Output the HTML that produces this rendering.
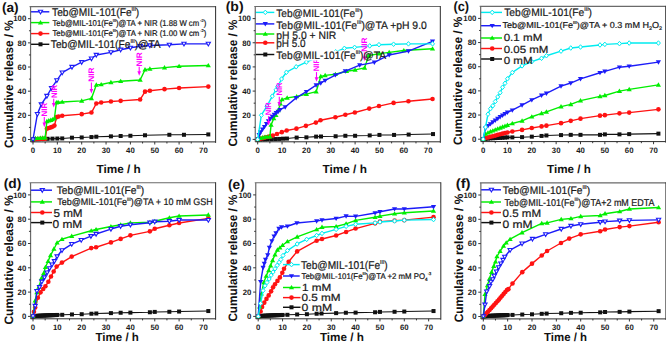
<!DOCTYPE html>
<html><head><meta charset="utf-8"><style>
html,body{margin:0;padding:0;background:#fff;}
svg{display:block;font-family:"Liberation Sans",sans-serif;text-rendering:geometricPrecision;}
</style></head><body>
<svg width="666" height="342" viewBox="0 0 666 342">
<rect width="666" height="342" fill="#fff"/>
<path d="M33 139.5L37.87 139.14L42.74 138.9L47.61 138.78L52.48 138.65L57.35 138.53L62.22 138.41L71.96 137.69L81.7 137.45L91.44 137.08L96.31 136.72L110.92 136.36L120.66 136L130.4 135.76L145.01 135.27L169.36 134.79L183.97 134.79L208.32 134.43" fill="none" stroke="#111111" stroke-width="1.05" stroke-linejoin="round"/>
<rect x="31" y="137.5" width="4" height="4" fill="#111111"/>
<rect x="35.87" y="137.14" width="4" height="4" fill="#111111"/>
<rect x="40.74" y="136.9" width="4" height="4" fill="#111111"/>
<rect x="45.61" y="136.78" width="4" height="4" fill="#111111"/>
<rect x="50.48" y="136.65" width="4" height="4" fill="#111111"/>
<rect x="55.35" y="136.53" width="4" height="4" fill="#111111"/>
<rect x="60.22" y="136.41" width="4" height="4" fill="#111111"/>
<rect x="69.96" y="135.69" width="4" height="4" fill="#111111"/>
<rect x="79.7" y="135.45" width="4" height="4" fill="#111111"/>
<rect x="89.44" y="135.08" width="4" height="4" fill="#111111"/>
<rect x="94.31" y="134.72" width="4" height="4" fill="#111111"/>
<rect x="108.92" y="134.36" width="4" height="4" fill="#111111"/>
<rect x="118.66" y="134" width="4" height="4" fill="#111111"/>
<rect x="128.4" y="133.76" width="4" height="4" fill="#111111"/>
<rect x="143.01" y="133.27" width="4" height="4" fill="#111111"/>
<rect x="167.36" y="132.79" width="4" height="4" fill="#111111"/>
<rect x="181.97" y="132.79" width="4" height="4" fill="#111111"/>
<rect x="206.32" y="132.43" width="4" height="4" fill="#111111"/>
<path d="M33 139.5L35.44 139.14L37.87 139.02L40.3 138.9L42.74 138.9L45.17 138.78L46.88 128.63L48.83 128.02L50.78 127.42L52.48 126.82L54.43 125.61L56.62 117.15L58.57 116.55L62.22 115.7L81.7 114.13L91.44 112.56L96.31 103.5L101.18 102.54L110.92 101.45L120.66 100.84L140.14 99.52L145.01 91.66L149.88 90.7L164.49 89.13L179.1 88.04L208.32 86.59" fill="none" stroke="#ff1212" stroke-width="1.4" stroke-linejoin="round"/>
<circle cx="33" cy="139.5" r="2.3" fill="#ff1212"/>
<circle cx="35.44" cy="139.14" r="2.3" fill="#ff1212"/>
<circle cx="37.87" cy="139.02" r="2.3" fill="#ff1212"/>
<circle cx="40.3" cy="138.9" r="2.3" fill="#ff1212"/>
<circle cx="42.74" cy="138.9" r="2.3" fill="#ff1212"/>
<circle cx="45.17" cy="138.78" r="2.3" fill="#ff1212"/>
<circle cx="46.88" cy="128.63" r="2.3" fill="#ff1212"/>
<circle cx="48.83" cy="128.02" r="2.3" fill="#ff1212"/>
<circle cx="50.78" cy="127.42" r="2.3" fill="#ff1212"/>
<circle cx="52.48" cy="126.82" r="2.3" fill="#ff1212"/>
<circle cx="54.43" cy="125.61" r="2.3" fill="#ff1212"/>
<circle cx="56.62" cy="117.15" r="2.3" fill="#ff1212"/>
<circle cx="58.57" cy="116.55" r="2.3" fill="#ff1212"/>
<circle cx="62.22" cy="115.7" r="2.3" fill="#ff1212"/>
<circle cx="81.7" cy="114.13" r="2.3" fill="#ff1212"/>
<circle cx="91.44" cy="112.56" r="2.3" fill="#ff1212"/>
<circle cx="96.31" cy="103.5" r="2.3" fill="#ff1212"/>
<circle cx="101.18" cy="102.54" r="2.3" fill="#ff1212"/>
<circle cx="110.92" cy="101.45" r="2.3" fill="#ff1212"/>
<circle cx="120.66" cy="100.84" r="2.3" fill="#ff1212"/>
<circle cx="140.14" cy="99.52" r="2.3" fill="#ff1212"/>
<circle cx="145.01" cy="91.66" r="2.3" fill="#ff1212"/>
<circle cx="149.88" cy="90.7" r="2.3" fill="#ff1212"/>
<circle cx="164.49" cy="89.13" r="2.3" fill="#ff1212"/>
<circle cx="179.1" cy="88.04" r="2.3" fill="#ff1212"/>
<circle cx="208.32" cy="86.59" r="2.3" fill="#ff1212"/>
<path d="M33 139.14L35.44 138.29L37.87 138.29L40.3 138.05L42.74 137.93L45.17 137.69L46.88 121.38L48.83 120.66L50.78 120.17L52.48 119.57L54.43 118.36L56.38 102.66L58.08 102.29L62.22 102.05L81.7 100.84L91.44 98.43L96.31 84.9L101.18 84.54L110.92 82.36L120.66 81.27L140.14 79.95L145.01 69.68L149.88 68.83L164.49 67.62L179.1 66.3L208.32 65.57" fill="none" stroke="#00ee00" stroke-width="1.4" stroke-linejoin="round"/>
<path d="M33 136.54L35.6 140.94L30.4 140.94Z" fill="#00ee00"/>
<path d="M35.44 135.69L38.04 140.09L32.84 140.09Z" fill="#00ee00"/>
<path d="M37.87 135.69L40.47 140.09L35.27 140.09Z" fill="#00ee00"/>
<path d="M40.3 135.45L42.91 139.85L37.7 139.85Z" fill="#00ee00"/>
<path d="M42.74 135.33L45.34 139.73L40.14 139.73Z" fill="#00ee00"/>
<path d="M45.17 135.09L47.77 139.49L42.57 139.49Z" fill="#00ee00"/>
<path d="M46.88 118.78L49.48 123.18L44.28 123.18Z" fill="#00ee00"/>
<path d="M48.83 118.06L51.43 122.46L46.23 122.46Z" fill="#00ee00"/>
<path d="M50.78 117.57L53.38 121.97L48.18 121.97Z" fill="#00ee00"/>
<path d="M52.48 116.97L55.08 121.37L49.88 121.37Z" fill="#00ee00"/>
<path d="M54.43 115.76L57.03 120.16L51.83 120.16Z" fill="#00ee00"/>
<path d="M56.38 100.06L58.98 104.46L53.78 104.46Z" fill="#00ee00"/>
<path d="M58.08 99.69L60.68 104.09L55.48 104.09Z" fill="#00ee00"/>
<path d="M62.22 99.45L64.82 103.85L59.62 103.85Z" fill="#00ee00"/>
<path d="M81.7 98.24L84.3 102.64L79.1 102.64Z" fill="#00ee00"/>
<path d="M91.44 95.83L94.04 100.23L88.84 100.23Z" fill="#00ee00"/>
<path d="M96.31 82.3L98.91 86.7L93.71 86.7Z" fill="#00ee00"/>
<path d="M101.18 81.94L103.78 86.34L98.58 86.34Z" fill="#00ee00"/>
<path d="M110.92 79.76L113.52 84.16L108.32 84.16Z" fill="#00ee00"/>
<path d="M120.66 78.67L123.26 83.07L118.06 83.07Z" fill="#00ee00"/>
<path d="M140.14 77.35L142.74 81.75L137.54 81.75Z" fill="#00ee00"/>
<path d="M145.01 67.08L147.61 71.48L142.41 71.48Z" fill="#00ee00"/>
<path d="M149.88 66.23L152.48 70.63L147.28 70.63Z" fill="#00ee00"/>
<path d="M164.49 65.02L167.09 69.42L161.89 69.42Z" fill="#00ee00"/>
<path d="M179.1 63.7L181.7 68.1L176.5 68.1Z" fill="#00ee00"/>
<path d="M208.32 62.97L210.92 67.37L205.72 67.37Z" fill="#00ee00"/>
<path d="M33 139.5L37.38 114.13L41.28 104.47L46.88 96.01L51.51 88.16L56.86 80.31L62.22 72.58L71.96 67.02L81.7 62.19L91.44 58.56L96.31 54.94L110.92 52.4L120.66 49.75L130.4 47.81L140.14 46.24L149.88 45.52L169.36 44.79L183.97 43.83L208.32 43.83" fill="none" stroke="#1c1cf8" stroke-width="1.4" stroke-linejoin="round"/>
<path d="M33 141.6L35.1 137.9L30.9 137.9Z" fill="#fff" stroke="#1c1cf8" stroke-width="1.1"/>
<path d="M37.38 116.23L39.48 112.53L35.28 112.53Z" fill="#fff" stroke="#1c1cf8" stroke-width="1.1"/>
<path d="M41.28 106.57L43.38 102.87L39.18 102.87Z" fill="#fff" stroke="#1c1cf8" stroke-width="1.1"/>
<path d="M46.88 98.11L48.98 94.41L44.78 94.41Z" fill="#fff" stroke="#1c1cf8" stroke-width="1.1"/>
<path d="M51.51 90.26L53.61 86.56L49.41 86.56Z" fill="#fff" stroke="#1c1cf8" stroke-width="1.1"/>
<path d="M56.86 82.41L58.96 78.71L54.76 78.71Z" fill="#fff" stroke="#1c1cf8" stroke-width="1.1"/>
<path d="M62.22 74.68L64.32 70.98L60.12 70.98Z" fill="#fff" stroke="#1c1cf8" stroke-width="1.1"/>
<path d="M71.96 69.12L74.06 65.42L69.86 65.42Z" fill="#fff" stroke="#1c1cf8" stroke-width="1.1"/>
<path d="M81.7 64.29L83.8 60.59L79.6 60.59Z" fill="#fff" stroke="#1c1cf8" stroke-width="1.1"/>
<path d="M91.44 60.66L93.54 56.96L89.34 56.96Z" fill="#fff" stroke="#1c1cf8" stroke-width="1.1"/>
<path d="M96.31 57.04L98.41 53.34L94.21 53.34Z" fill="#fff" stroke="#1c1cf8" stroke-width="1.1"/>
<path d="M110.92 54.5L113.02 50.8L108.82 50.8Z" fill="#fff" stroke="#1c1cf8" stroke-width="1.1"/>
<path d="M120.66 51.85L122.76 48.15L118.56 48.15Z" fill="#fff" stroke="#1c1cf8" stroke-width="1.1"/>
<path d="M130.4 49.91L132.5 46.21L128.3 46.21Z" fill="#fff" stroke="#1c1cf8" stroke-width="1.1"/>
<path d="M140.14 48.34L142.24 44.64L138.04 44.64Z" fill="#fff" stroke="#1c1cf8" stroke-width="1.1"/>
<path d="M149.88 47.62L151.98 43.92L147.78 43.92Z" fill="#fff" stroke="#1c1cf8" stroke-width="1.1"/>
<path d="M169.36 46.89L171.46 43.19L167.26 43.19Z" fill="#fff" stroke="#1c1cf8" stroke-width="1.1"/>
<path d="M183.97 45.93L186.07 42.23L181.87 42.23Z" fill="#fff" stroke="#1c1cf8" stroke-width="1.1"/>
<path d="M208.32 45.93L210.42 42.23L206.22 42.23Z" fill="#fff" stroke="#1c1cf8" stroke-width="1.1"/>
<text transform="translate(47.1 116.4) rotate(-90)" font-size="8" font-weight="bold" fill="#ff00ff" textLength="13.6" lengthAdjust="spacingAndGlyphs">NIR</text>
<path d="M44.3 117.1L44.3 124.2" stroke="#ff00ff" stroke-width="1.1"/>
<path d="M42.5 122.6L46.1 122.6L44.3 127.2Z" fill="#ff00ff"/>
<text transform="translate(56.5 98.1) rotate(-90)" font-size="8" font-weight="bold" fill="#ff00ff" textLength="13.3" lengthAdjust="spacingAndGlyphs">NIR</text>
<path d="M53.7 98.8L53.7 104.5" stroke="#ff00ff" stroke-width="1.1"/>
<path d="M51.9 102.9L55.5 102.9L53.7 107.5Z" fill="#ff00ff"/>
<text transform="translate(94.2 81.8) rotate(-90)" font-size="8" font-weight="bold" fill="#ff00ff" textLength="14.3" lengthAdjust="spacingAndGlyphs">NIR</text>
<path d="M91.4 82.4L91.4 90.5" stroke="#ff00ff" stroke-width="1.1"/>
<path d="M89.6 88.9L93.2 88.9L91.4 93.5Z" fill="#ff00ff"/>
<text transform="translate(142 66.4) rotate(-90)" font-size="8" font-weight="bold" fill="#ff00ff" textLength="14.1" lengthAdjust="spacingAndGlyphs">NIR</text>
<path d="M139.2 66.8L139.2 72.8" stroke="#ff00ff" stroke-width="1.1"/>
<path d="M137.4 71.2L141 71.2L139.2 75.8Z" fill="#ff00ff"/>
<path d="M31 11.8L49.3 11.8" stroke="#1c1cf8" stroke-width="1.45"/>
<path d="M40.5 13.9L42.6 10.2L38.4 10.2Z" fill="#fff" stroke="#1c1cf8" stroke-width="1.1"/>
<text x="52.1" y="15.9" font-size="11.12" fill="#1a1a1a" stroke="#1a1a1a" stroke-width="0.22" textLength="87.1" lengthAdjust="spacingAndGlyphs"><tspan>Teb@MIL-101(Fe</tspan><tspan font-size="5.56" baseline-shift="5.12">III</tspan><tspan>)</tspan></text>
<path d="M31 22.6L49.3 22.6" stroke="#00ee00" stroke-width="1.45"/>
<path d="M40.5 20L43.1 24.4L37.9 24.4Z" fill="#00ee00"/>
<text x="52.5" y="25.5" font-size="8.53" fill="#1a1a1a" stroke="#1a1a1a" stroke-width="0.22" textLength="153.8" lengthAdjust="spacingAndGlyphs"><tspan>Teb@MIL-101(Fe</tspan><tspan font-size="4.26" baseline-shift="3.92">III</tspan><tspan>)@TA + NIR (1.88 W cm</tspan><tspan font-size="4.26" baseline-shift="3.92"> -2</tspan><tspan>)</tspan></text>
<path d="M31 33.6L49.3 33.6" stroke="#ff1212" stroke-width="1.45"/>
<circle cx="40.5" cy="33.6" r="2.3" fill="#ff1212"/>
<text x="52.5" y="35.5" font-size="8.21" fill="#1a1a1a" stroke="#1a1a1a" stroke-width="0.22" textLength="153.8" lengthAdjust="spacingAndGlyphs"><tspan>Teb@MIL-101(Fe</tspan><tspan font-size="4.11" baseline-shift="3.78">III</tspan><tspan>)@TA + NIR (1.00 W cm</tspan><tspan font-size="4.11" baseline-shift="3.78"> -2</tspan><tspan>)</tspan></text>
<path d="M31 44.3L49.3 44.3" stroke="#111111" stroke-width="1.45"/>
<rect x="38.5" y="42.3" width="4" height="4" fill="#111111"/>
<text x="50.8" y="47.8" font-size="11.12" fill="#1a1a1a" stroke="#1a1a1a" stroke-width="0.22" textLength="109.9" lengthAdjust="spacingAndGlyphs"><tspan>Teb@MIL-101(Fe</tspan><tspan font-size="5.56" baseline-shift="5.12">III</tspan><tspan>)@TA</tspan></text>
<path d="M29.57 6.62H215.62M30.57 6.62V141.9" fill="none" stroke="#6a6a6a" stroke-width="1.2"/>
<path d="M30.57 141.9H215.62M215.62 6.12V142.9" fill="none" stroke="#2a2a2a" stroke-width="1"/>
<path d="M33 141.9v2.6M57.35 141.9v2.6M81.7 141.9v2.6M106.05 141.9v2.6M130.4 141.9v2.6M154.75 141.9v2.6M179.1 141.9v2.6M203.45 141.9v2.6M45.17 141.9v1.6M69.53 141.9v1.6M93.88 141.9v1.6M118.23 141.9v1.6M142.57 141.9v1.6M166.93 141.9v1.6M191.28 141.9v1.6M30.57 139.5h-2.6M30.57 115.34h-2.6M30.57 91.18h-2.6M30.57 67.02h-2.6M30.57 42.86h-2.6M30.57 18.7h-2.6M30.57 127.42h-1.6M30.57 103.26h-1.6M30.57 79.1h-1.6M30.57 54.94h-1.6M30.57 30.78h-1.6" stroke="#222" stroke-width="0.9"/>
<text x="33" y="153.3" font-size="7.8" font-weight="bold" text-anchor="middle" fill="#1a1a1a" >0</text>
<text x="57.35" y="153.3" font-size="7.8" font-weight="bold" text-anchor="middle" fill="#1a1a1a" >10</text>
<text x="81.7" y="153.3" font-size="7.8" font-weight="bold" text-anchor="middle" fill="#1a1a1a" >20</text>
<text x="106.05" y="153.3" font-size="7.8" font-weight="bold" text-anchor="middle" fill="#1a1a1a" >30</text>
<text x="130.4" y="153.3" font-size="7.8" font-weight="bold" text-anchor="middle" fill="#1a1a1a" >40</text>
<text x="154.75" y="153.3" font-size="7.8" font-weight="bold" text-anchor="middle" fill="#1a1a1a" >50</text>
<text x="179.1" y="153.3" font-size="7.8" font-weight="bold" text-anchor="middle" fill="#1a1a1a" >60</text>
<text x="203.45" y="153.3" font-size="7.8" font-weight="bold" text-anchor="middle" fill="#1a1a1a" >70</text>
<text x="26.27" y="142.25" font-size="7.8" font-weight="bold" text-anchor="end" fill="#1a1a1a" >0</text>
<text x="26.27" y="118.09" font-size="7.8" font-weight="bold" text-anchor="end" fill="#1a1a1a" >20</text>
<text x="26.27" y="93.93" font-size="7.8" font-weight="bold" text-anchor="end" fill="#1a1a1a" >40</text>
<text x="26.27" y="69.77" font-size="7.8" font-weight="bold" text-anchor="end" fill="#1a1a1a" >60</text>
<text x="26.27" y="45.61" font-size="7.8" font-weight="bold" text-anchor="end" fill="#1a1a1a" >80</text>
<text x="26.27" y="21.45" font-size="7.8" font-weight="bold" text-anchor="end" fill="#1a1a1a" >100</text>
<text transform="translate(12.8 84.1) rotate(-90)" font-size="12.2" font-weight="bold" text-anchor="middle" fill="#111" textLength="127.8" lengthAdjust="spacingAndGlyphs">Cumulative release / %</text>
<text x="96.5" y="172.6" font-size="11.6" font-weight="bold" text-anchor="start" fill="#111" textLength="44.3" lengthAdjust="spacingAndGlyphs">Time / h</text>
<text x="1.9" y="11.7" font-size="13.4" font-weight="bold" text-anchor="start" fill="#111" textLength="16.7" lengthAdjust="spacingAndGlyphs">(a)</text>
<path d="M257.7 139.4L260.13 139.4L262.57 139.28L265 139.28L267.44 139.16L271.34 139.16L275.23 139.04L279.13 138.92L283.02 138.68L286.92 138.55L296.66 137.59L306.4 137.35L316.14 136.62L321.01 136.5L335.62 136.26L345.36 135.78L355.1 135.78L369.71 135.41L379.45 134.93L394.06 134.93L408.67 134.57L433.02 134.08" fill="none" stroke="#111111" stroke-width="1.05" stroke-linejoin="round"/>
<rect x="255.7" y="137.4" width="4" height="4" fill="#111111"/>
<rect x="258.13" y="137.4" width="4" height="4" fill="#111111"/>
<rect x="260.57" y="137.28" width="4" height="4" fill="#111111"/>
<rect x="263" y="137.28" width="4" height="4" fill="#111111"/>
<rect x="265.44" y="137.16" width="4" height="4" fill="#111111"/>
<rect x="269.34" y="137.16" width="4" height="4" fill="#111111"/>
<rect x="273.23" y="137.04" width="4" height="4" fill="#111111"/>
<rect x="277.13" y="136.92" width="4" height="4" fill="#111111"/>
<rect x="281.02" y="136.68" width="4" height="4" fill="#111111"/>
<rect x="284.92" y="136.55" width="4" height="4" fill="#111111"/>
<rect x="294.66" y="135.59" width="4" height="4" fill="#111111"/>
<rect x="304.4" y="135.35" width="4" height="4" fill="#111111"/>
<rect x="314.14" y="134.62" width="4" height="4" fill="#111111"/>
<rect x="319.01" y="134.5" width="4" height="4" fill="#111111"/>
<rect x="333.62" y="134.26" width="4" height="4" fill="#111111"/>
<rect x="343.36" y="133.78" width="4" height="4" fill="#111111"/>
<rect x="353.1" y="133.78" width="4" height="4" fill="#111111"/>
<rect x="367.71" y="133.41" width="4" height="4" fill="#111111"/>
<rect x="377.45" y="132.93" width="4" height="4" fill="#111111"/>
<rect x="392.06" y="132.93" width="4" height="4" fill="#111111"/>
<rect x="406.67" y="132.57" width="4" height="4" fill="#111111"/>
<rect x="431.02" y="132.08" width="4" height="4" fill="#111111"/>
<path d="M257.7 139.4L260.13 138.8L262.57 138.19L265 137.59L267.44 136.98L269.88 136.38L272.8 135.53L276.94 133.96L281.81 132.15L286.68 130.46L296.42 128.65L305.91 125.87L315.9 122.61L320.52 120.19L335.38 117.29L345.36 114.76L354.86 112.46L369.22 108.6L378.96 106.06L393.57 102.92L408.43 101.23L432.53 98.93" fill="none" stroke="#ff1212" stroke-width="1.4" stroke-linejoin="round"/>
<circle cx="257.7" cy="139.4" r="2.3" fill="#ff1212"/>
<circle cx="260.13" cy="138.8" r="2.3" fill="#ff1212"/>
<circle cx="262.57" cy="138.19" r="2.3" fill="#ff1212"/>
<circle cx="265" cy="137.59" r="2.3" fill="#ff1212"/>
<circle cx="267.44" cy="136.98" r="2.3" fill="#ff1212"/>
<circle cx="269.88" cy="136.38" r="2.3" fill="#ff1212"/>
<circle cx="272.8" cy="135.53" r="2.3" fill="#ff1212"/>
<circle cx="276.94" cy="133.96" r="2.3" fill="#ff1212"/>
<circle cx="281.81" cy="132.15" r="2.3" fill="#ff1212"/>
<circle cx="286.68" cy="130.46" r="2.3" fill="#ff1212"/>
<circle cx="296.42" cy="128.65" r="2.3" fill="#ff1212"/>
<circle cx="305.91" cy="125.87" r="2.3" fill="#ff1212"/>
<circle cx="315.9" cy="122.61" r="2.3" fill="#ff1212"/>
<circle cx="320.52" cy="120.19" r="2.3" fill="#ff1212"/>
<circle cx="335.38" cy="117.29" r="2.3" fill="#ff1212"/>
<circle cx="345.36" cy="114.76" r="2.3" fill="#ff1212"/>
<circle cx="354.86" cy="112.46" r="2.3" fill="#ff1212"/>
<circle cx="369.22" cy="108.6" r="2.3" fill="#ff1212"/>
<circle cx="378.96" cy="106.06" r="2.3" fill="#ff1212"/>
<circle cx="393.57" cy="102.92" r="2.3" fill="#ff1212"/>
<circle cx="408.43" cy="101.23" r="2.3" fill="#ff1212"/>
<circle cx="432.53" cy="98.93" r="2.3" fill="#ff1212"/>
<path d="M257.7 139.4L260.13 138.19L262.57 137.59L265 136.98L267.44 136.74L269.88 136.62L271.09 124.9L273.77 118.38L275.96 115.24L278.15 110.41L280.35 103.76L282.05 99.54L287.16 97.84L296.66 96.52L306.4 94.1L316.14 91.68L320.77 76.46L325.15 75.38L335.38 74.29L346.58 71.27L355.1 69.94L364.6 67.89L368.74 55.56L379.45 53.63L389.19 52.42L403.8 50.49L432.53 48.8" fill="none" stroke="#00ee00" stroke-width="1.4" stroke-linejoin="round"/>
<path d="M257.7 136.8L260.3 141.2L255.1 141.2Z" fill="#00ee00"/>
<path d="M260.13 135.59L262.74 139.99L257.53 139.99Z" fill="#00ee00"/>
<path d="M262.57 134.99L265.17 139.39L259.97 139.39Z" fill="#00ee00"/>
<path d="M265 134.38L267.61 138.78L262.4 138.78Z" fill="#00ee00"/>
<path d="M267.44 134.14L270.04 138.54L264.84 138.54Z" fill="#00ee00"/>
<path d="M269.88 134.02L272.48 138.42L267.27 138.42Z" fill="#00ee00"/>
<path d="M271.09 122.3L273.69 126.7L268.49 126.7Z" fill="#00ee00"/>
<path d="M273.77 115.78L276.37 120.18L271.17 120.18Z" fill="#00ee00"/>
<path d="M275.96 112.64L278.56 117.04L273.36 117.04Z" fill="#00ee00"/>
<path d="M278.15 107.81L280.75 112.21L275.55 112.21Z" fill="#00ee00"/>
<path d="M280.35 101.16L282.95 105.56L277.75 105.56Z" fill="#00ee00"/>
<path d="M282.05 96.94L284.65 101.34L279.45 101.34Z" fill="#00ee00"/>
<path d="M287.16 95.24L289.76 99.64L284.56 99.64Z" fill="#00ee00"/>
<path d="M296.66 93.92L299.26 98.32L294.06 98.32Z" fill="#00ee00"/>
<path d="M306.4 91.5L309 95.9L303.8 95.9Z" fill="#00ee00"/>
<path d="M316.14 89.08L318.74 93.48L313.54 93.48Z" fill="#00ee00"/>
<path d="M320.77 73.86L323.37 78.26L318.17 78.26Z" fill="#00ee00"/>
<path d="M325.15 72.78L327.75 77.18L322.55 77.18Z" fill="#00ee00"/>
<path d="M335.38 71.69L337.98 76.09L332.78 76.09Z" fill="#00ee00"/>
<path d="M346.58 68.67L349.18 73.07L343.98 73.07Z" fill="#00ee00"/>
<path d="M355.1 67.34L357.7 71.74L352.5 71.74Z" fill="#00ee00"/>
<path d="M364.6 65.29L367.2 69.69L362 69.69Z" fill="#00ee00"/>
<path d="M368.74 52.96L371.34 57.36L366.14 57.36Z" fill="#00ee00"/>
<path d="M379.45 51.03L382.05 55.43L376.85 55.43Z" fill="#00ee00"/>
<path d="M389.19 49.82L391.79 54.22L386.59 54.22Z" fill="#00ee00"/>
<path d="M403.8 47.89L406.4 52.29L401.2 52.29Z" fill="#00ee00"/>
<path d="M432.53 46.2L435.13 50.6L429.93 50.6Z" fill="#00ee00"/>
<path d="M257.7 139.4L259.16 134.81L260.62 132.15L262.57 129.37L264.52 126.72L266.47 123.7L268.41 121.04L270.36 118.62L272.31 116.45L274.26 114.64L276.21 112.82L278.15 111.62L280.1 109.68L285.22 107.03L296.17 97.84L306.4 91.68L316.14 85.16L320.77 83.11L325.15 80.45L335.38 75.01L345.36 71.15L359.73 65.11L374.34 62.33L389.19 54.96L408.43 51.1L432.53 41.31" fill="none" stroke="#1c1cf8" stroke-width="1.4" stroke-linejoin="round"/>
<path d="M257.7 142L260.3 137.6L255.1 137.6Z" fill="#1c1cf8"/>
<path d="M259.16 137.41L261.76 133.01L256.56 133.01Z" fill="#1c1cf8"/>
<path d="M260.62 134.75L263.22 130.35L258.02 130.35Z" fill="#1c1cf8"/>
<path d="M262.57 131.97L265.17 127.57L259.97 127.57Z" fill="#1c1cf8"/>
<path d="M264.52 129.32L267.12 124.92L261.92 124.92Z" fill="#1c1cf8"/>
<path d="M266.47 126.3L269.07 121.9L263.87 121.9Z" fill="#1c1cf8"/>
<path d="M268.41 123.64L271.01 119.24L265.81 119.24Z" fill="#1c1cf8"/>
<path d="M270.36 121.22L272.96 116.82L267.76 116.82Z" fill="#1c1cf8"/>
<path d="M272.31 119.05L274.91 114.65L269.71 114.65Z" fill="#1c1cf8"/>
<path d="M274.26 117.24L276.86 112.84L271.66 112.84Z" fill="#1c1cf8"/>
<path d="M276.21 115.42L278.81 111.02L273.61 111.02Z" fill="#1c1cf8"/>
<path d="M278.15 114.22L280.75 109.82L275.55 109.82Z" fill="#1c1cf8"/>
<path d="M280.1 112.28L282.7 107.88L277.5 107.88Z" fill="#1c1cf8"/>
<path d="M285.22 109.63L287.82 105.23L282.62 105.23Z" fill="#1c1cf8"/>
<path d="M296.17 100.44L298.77 96.04L293.57 96.04Z" fill="#1c1cf8"/>
<path d="M306.4 94.28L309 89.88L303.8 89.88Z" fill="#1c1cf8"/>
<path d="M316.14 87.76L318.74 83.36L313.54 83.36Z" fill="#1c1cf8"/>
<path d="M320.77 85.71L323.37 81.31L318.17 81.31Z" fill="#1c1cf8"/>
<path d="M325.15 83.05L327.75 78.65L322.55 78.65Z" fill="#1c1cf8"/>
<path d="M335.38 77.61L337.98 73.21L332.78 73.21Z" fill="#1c1cf8"/>
<path d="M345.36 73.75L347.96 69.35L342.76 69.35Z" fill="#1c1cf8"/>
<path d="M359.73 67.71L362.33 63.31L357.13 63.31Z" fill="#1c1cf8"/>
<path d="M374.34 64.93L376.94 60.53L371.74 60.53Z" fill="#1c1cf8"/>
<path d="M389.19 57.56L391.79 53.16L386.59 53.16Z" fill="#1c1cf8"/>
<path d="M408.43 53.7L411.03 49.3L405.83 49.3Z" fill="#1c1cf8"/>
<path d="M432.53 43.91L435.13 39.51L429.93 39.51Z" fill="#1c1cf8"/>
<path d="M257.7 139.4L261.35 115.24L266.95 106.18L272.31 96.15L275.96 89.87L277.67 86.61L281.56 79L286.43 72.24L296.17 66.8L306.4 62.09L316.14 57.98L321.01 55.44L335.62 51.82L344.39 48.32L354.61 47.35L369.71 45.9L378.96 44.69L393.57 44.21L408.43 43.85L432.53 43.85" fill="none" stroke="#00ecf0" stroke-width="1.4" stroke-linejoin="round"/>
<path d="M257.7 137.1L259.7 139.4L257.7 141.7L255.7 139.4Z" fill="#fff" stroke="#00ecf0" stroke-width="1"/>
<path d="M261.35 112.94L263.35 115.24L261.35 117.54L259.35 115.24Z" fill="#fff" stroke="#00ecf0" stroke-width="1"/>
<path d="M266.95 103.88L268.95 106.18L266.95 108.48L264.95 106.18Z" fill="#fff" stroke="#00ecf0" stroke-width="1"/>
<path d="M272.31 93.85L274.31 96.15L272.31 98.45L270.31 96.15Z" fill="#fff" stroke="#00ecf0" stroke-width="1"/>
<path d="M275.96 87.57L277.96 89.87L275.96 92.17L273.96 89.87Z" fill="#fff" stroke="#00ecf0" stroke-width="1"/>
<path d="M277.67 84.31L279.67 86.61L277.67 88.91L275.67 86.61Z" fill="#fff" stroke="#00ecf0" stroke-width="1"/>
<path d="M281.56 76.7L283.56 79L281.56 81.3L279.56 79Z" fill="#fff" stroke="#00ecf0" stroke-width="1"/>
<path d="M286.43 69.94L288.43 72.24L286.43 74.54L284.43 72.24Z" fill="#fff" stroke="#00ecf0" stroke-width="1"/>
<path d="M296.17 64.5L298.17 66.8L296.17 69.1L294.17 66.8Z" fill="#fff" stroke="#00ecf0" stroke-width="1"/>
<path d="M306.4 59.79L308.4 62.09L306.4 64.39L304.4 62.09Z" fill="#fff" stroke="#00ecf0" stroke-width="1"/>
<path d="M316.14 55.68L318.14 57.98L316.14 60.28L314.14 57.98Z" fill="#fff" stroke="#00ecf0" stroke-width="1"/>
<path d="M321.01 53.14L323.01 55.44L321.01 57.74L319.01 55.44Z" fill="#fff" stroke="#00ecf0" stroke-width="1"/>
<path d="M335.62 49.52L337.62 51.82L335.62 54.12L333.62 51.82Z" fill="#fff" stroke="#00ecf0" stroke-width="1"/>
<path d="M344.39 46.02L346.39 48.32L344.39 50.62L342.39 48.32Z" fill="#fff" stroke="#00ecf0" stroke-width="1"/>
<path d="M354.61 45.05L356.61 47.35L354.61 49.65L352.61 47.35Z" fill="#fff" stroke="#00ecf0" stroke-width="1"/>
<path d="M369.71 43.6L371.71 45.9L369.71 48.2L367.71 45.9Z" fill="#fff" stroke="#00ecf0" stroke-width="1"/>
<path d="M378.96 42.39L380.96 44.69L378.96 46.99L376.96 44.69Z" fill="#fff" stroke="#00ecf0" stroke-width="1"/>
<path d="M393.57 41.91L395.57 44.21L393.57 46.51L391.57 44.21Z" fill="#fff" stroke="#00ecf0" stroke-width="1"/>
<path d="M408.43 41.55L410.43 43.85L408.43 46.15L406.43 43.85Z" fill="#fff" stroke="#00ecf0" stroke-width="1"/>
<path d="M432.53 41.55L434.53 43.85L432.53 46.15L430.53 43.85Z" fill="#fff" stroke="#00ecf0" stroke-width="1"/>
<text transform="translate(271.4 115.3) rotate(-90)" font-size="8" font-weight="bold" fill="#ff00ff" textLength="13.2" lengthAdjust="spacingAndGlyphs">NIR</text>
<path d="M268.6 116.3L268.6 122.5" stroke="#ff00ff" stroke-width="1.1"/>
<path d="M266.8 120.9L270.4 120.9L268.6 125.5Z" fill="#ff00ff"/>
<text transform="translate(282.1 95.5) rotate(-90)" font-size="8" font-weight="bold" fill="#ff00ff" textLength="13.1" lengthAdjust="spacingAndGlyphs">NIR</text>
<path d="M279.3 96.7L279.3 103.5" stroke="#ff00ff" stroke-width="1.1"/>
<path d="M277.5 101.9L281.1 101.9L279.3 106.5Z" fill="#ff00ff"/>
<text transform="translate(319.3 71.2) rotate(-90)" font-size="8" font-weight="bold" fill="#ff00ff" textLength="13.2" lengthAdjust="spacingAndGlyphs">NIR</text>
<path d="M316.5 72.1L316.5 78.8" stroke="#ff00ff" stroke-width="1.1"/>
<path d="M314.7 77.2L318.3 77.2L316.5 81.8Z" fill="#ff00ff"/>
<text transform="translate(367.2 51.8) rotate(-90)" font-size="8" font-weight="bold" fill="#ff00ff" textLength="14.3" lengthAdjust="spacingAndGlyphs">NIR</text>
<path d="M364.4 52.5L364.4 58" stroke="#ff00ff" stroke-width="1.1"/>
<path d="M362.6 56.4L366.2 56.4L364.4 61Z" fill="#ff00ff"/>
<path d="M255.5 12.4L274.3 12.4" stroke="#00ecf0" stroke-width="1.45"/>
<path d="M265.3 10.1L267.3 12.4L265.3 14.7L263.3 12.4Z" fill="#fff" stroke="#00ecf0" stroke-width="1"/>
<text x="276.2" y="17.3" font-size="10.8" fill="#1a1a1a" stroke="#1a1a1a" stroke-width="0.22" textLength="86.6" lengthAdjust="spacingAndGlyphs"><tspan>Teb@MIL-101(Fe</tspan><tspan font-size="5.4" baseline-shift="4.97">III</tspan><tspan>)</tspan></text>
<path d="M255.5 23.9L274.3 23.9" stroke="#1c1cf8" stroke-width="1.45"/>
<path d="M265.3 26.5L267.9 22.1L262.7 22.1Z" fill="#1c1cf8"/>
<text x="276.2" y="28.8" font-size="10.8" fill="#1a1a1a" stroke="#1a1a1a" stroke-width="0.22" textLength="150.6" lengthAdjust="spacingAndGlyphs"><tspan>Teb@MIL-101(Fe</tspan><tspan font-size="5.4" baseline-shift="4.97">III</tspan><tspan>)@TA +pH 9.0</tspan></text>
<path d="M255.5 34L274.3 34" stroke="#00ee00" stroke-width="1.45"/>
<path d="M265.3 31.4L267.9 35.8L262.7 35.8Z" fill="#00ee00"/>
<text x="276.2" y="38.6" font-size="10.8" fill="#1a1a1a" stroke="#1a1a1a" stroke-width="0.22" textLength="60.1" lengthAdjust="spacingAndGlyphs"><tspan>pH 5.0 + NIR</tspan></text>
<path d="M255.5 42.8L274.3 42.8" stroke="#ff1212" stroke-width="1.45"/>
<circle cx="265.3" cy="42.8" r="2.3" fill="#ff1212"/>
<text x="276.2" y="47.4" font-size="10.8" fill="#1a1a1a" stroke="#1a1a1a" stroke-width="0.22" textLength="29.3" lengthAdjust="spacingAndGlyphs"><tspan>pH 5.0</tspan></text>
<rect x="275.5" y="50.6" width="82.5" height="9.9" fill="#fff"/>
<path d="M255.5 54.5L274.3 54.5" stroke="#111111" stroke-width="1.45"/>
<rect x="263.3" y="52.5" width="4" height="4" fill="#111111"/>
<text x="276.2" y="58.8" font-size="10.8" fill="#1a1a1a" stroke="#1a1a1a" stroke-width="0.22" textLength="109.8" lengthAdjust="spacingAndGlyphs"><tspan>Teb@MIL-101(Fe</tspan><tspan font-size="5.4" baseline-shift="4.97">III</tspan><tspan>)@TA</tspan></text>
<path d="M254.26 6.52H440.32M255.26 6.52V141.8" fill="none" stroke="#6a6a6a" stroke-width="1.2"/>
<path d="M255.26 141.8H440.32M440.32 6.02V142.8" fill="none" stroke="#2a2a2a" stroke-width="1"/>
<path d="M257.7 141.8v2.6M282.05 141.8v2.6M306.4 141.8v2.6M330.75 141.8v2.6M355.1 141.8v2.6M379.45 141.8v2.6M403.8 141.8v2.6M428.15 141.8v2.6M269.88 141.8v1.6M294.22 141.8v1.6M318.57 141.8v1.6M342.93 141.8v1.6M367.27 141.8v1.6M391.62 141.8v1.6M415.98 141.8v1.6M255.26 139.4h-2.6M255.26 115.24h-2.6M255.26 91.08h-2.6M255.26 66.92h-2.6M255.26 42.76h-2.6M255.26 18.6h-2.6M255.26 127.32h-1.6M255.26 103.16h-1.6M255.26 79h-1.6M255.26 54.84h-1.6M255.26 30.68h-1.6" stroke="#222" stroke-width="0.9"/>
<text x="257.7" y="153.2" font-size="7.8" font-weight="bold" text-anchor="middle" fill="#1a1a1a" >0</text>
<text x="282.05" y="153.2" font-size="7.8" font-weight="bold" text-anchor="middle" fill="#1a1a1a" >10</text>
<text x="306.4" y="153.2" font-size="7.8" font-weight="bold" text-anchor="middle" fill="#1a1a1a" >20</text>
<text x="330.75" y="153.2" font-size="7.8" font-weight="bold" text-anchor="middle" fill="#1a1a1a" >30</text>
<text x="355.1" y="153.2" font-size="7.8" font-weight="bold" text-anchor="middle" fill="#1a1a1a" >40</text>
<text x="379.45" y="153.2" font-size="7.8" font-weight="bold" text-anchor="middle" fill="#1a1a1a" >50</text>
<text x="403.8" y="153.2" font-size="7.8" font-weight="bold" text-anchor="middle" fill="#1a1a1a" >60</text>
<text x="428.15" y="153.2" font-size="7.8" font-weight="bold" text-anchor="middle" fill="#1a1a1a" >70</text>
<text x="250.96" y="142.15" font-size="7.8" font-weight="bold" text-anchor="end" fill="#1a1a1a" >0</text>
<text x="250.96" y="117.99" font-size="7.8" font-weight="bold" text-anchor="end" fill="#1a1a1a" >20</text>
<text x="250.96" y="93.83" font-size="7.8" font-weight="bold" text-anchor="end" fill="#1a1a1a" >40</text>
<text x="250.96" y="69.67" font-size="7.8" font-weight="bold" text-anchor="end" fill="#1a1a1a" >60</text>
<text x="250.96" y="45.51" font-size="7.8" font-weight="bold" text-anchor="end" fill="#1a1a1a" >80</text>
<text x="250.96" y="21.35" font-size="7.8" font-weight="bold" text-anchor="end" fill="#1a1a1a" >100</text>
<text transform="translate(236.8 83.05) rotate(-90)" font-size="12.2" font-weight="bold" text-anchor="middle" fill="#111" textLength="127.1" lengthAdjust="spacingAndGlyphs">Cumulative release / %</text>
<text x="322.5" y="172.6" font-size="11.6" font-weight="bold" text-anchor="start" fill="#111" textLength="44.4" lengthAdjust="spacingAndGlyphs">Time / h</text>
<text x="225.7" y="10.7" font-size="13.4" font-weight="bold" text-anchor="start" fill="#111" textLength="17.9" lengthAdjust="spacingAndGlyphs">(b)</text>
<path d="M483.1 139.2L485.54 138.84L487.97 138.6L490.41 138.35L492.84 138.23L495.28 138.11L497.71 137.99L500.15 137.87L502.58 137.75L505.02 137.51L507.45 137.39L512.32 137.39L522.06 137.15L531.8 136.66L541.54 135.94L546.41 135.46L561.02 135.09L570.76 134.85L580.5 134.85L599.98 134.85L604.85 134.37L619.46 134.37L629.2 134.13L658.42 133.64" fill="none" stroke="#111111" stroke-width="1.05" stroke-linejoin="round"/>
<rect x="481.1" y="137.2" width="4" height="4" fill="#111111"/>
<rect x="483.54" y="136.84" width="4" height="4" fill="#111111"/>
<rect x="485.97" y="136.6" width="4" height="4" fill="#111111"/>
<rect x="488.41" y="136.35" width="4" height="4" fill="#111111"/>
<rect x="490.84" y="136.23" width="4" height="4" fill="#111111"/>
<rect x="493.28" y="136.11" width="4" height="4" fill="#111111"/>
<rect x="495.71" y="135.99" width="4" height="4" fill="#111111"/>
<rect x="498.15" y="135.87" width="4" height="4" fill="#111111"/>
<rect x="500.58" y="135.75" width="4" height="4" fill="#111111"/>
<rect x="503.02" y="135.51" width="4" height="4" fill="#111111"/>
<rect x="505.45" y="135.39" width="4" height="4" fill="#111111"/>
<rect x="510.32" y="135.39" width="4" height="4" fill="#111111"/>
<rect x="520.06" y="135.15" width="4" height="4" fill="#111111"/>
<rect x="529.8" y="134.66" width="4" height="4" fill="#111111"/>
<rect x="539.54" y="133.94" width="4" height="4" fill="#111111"/>
<rect x="544.41" y="133.46" width="4" height="4" fill="#111111"/>
<rect x="559.02" y="133.09" width="4" height="4" fill="#111111"/>
<rect x="568.76" y="132.85" width="4" height="4" fill="#111111"/>
<rect x="578.5" y="132.85" width="4" height="4" fill="#111111"/>
<rect x="597.98" y="132.85" width="4" height="4" fill="#111111"/>
<rect x="602.85" y="132.37" width="4" height="4" fill="#111111"/>
<rect x="617.46" y="132.37" width="4" height="4" fill="#111111"/>
<rect x="627.2" y="132.13" width="4" height="4" fill="#111111"/>
<rect x="656.42" y="131.64" width="4" height="4" fill="#111111"/>
<path d="M483.1 139.2L485.54 137.99L487.97 137.39L490.41 136.78L492.84 136.18L495.28 135.58L497.71 134.85L500.15 134.25L502.58 133.64L505.02 133.04L507.45 132.44L512.32 131.47L522.06 129.9L531.8 127.97L541.54 126.4L546.41 125.67L561.02 123.13L570.76 120.84L580.5 118.66L599.98 115.64L604.85 115.16L619.46 113.35L629.2 112.62L658.42 109.36" fill="none" stroke="#ff1212" stroke-width="1.4" stroke-linejoin="round"/>
<circle cx="483.1" cy="139.2" r="2.3" fill="#ff1212"/>
<circle cx="485.54" cy="137.99" r="2.3" fill="#ff1212"/>
<circle cx="487.97" cy="137.39" r="2.3" fill="#ff1212"/>
<circle cx="490.41" cy="136.78" r="2.3" fill="#ff1212"/>
<circle cx="492.84" cy="136.18" r="2.3" fill="#ff1212"/>
<circle cx="495.28" cy="135.58" r="2.3" fill="#ff1212"/>
<circle cx="497.71" cy="134.85" r="2.3" fill="#ff1212"/>
<circle cx="500.15" cy="134.25" r="2.3" fill="#ff1212"/>
<circle cx="502.58" cy="133.64" r="2.3" fill="#ff1212"/>
<circle cx="505.02" cy="133.04" r="2.3" fill="#ff1212"/>
<circle cx="507.45" cy="132.44" r="2.3" fill="#ff1212"/>
<circle cx="512.32" cy="131.47" r="2.3" fill="#ff1212"/>
<circle cx="522.06" cy="129.9" r="2.3" fill="#ff1212"/>
<circle cx="531.8" cy="127.97" r="2.3" fill="#ff1212"/>
<circle cx="541.54" cy="126.4" r="2.3" fill="#ff1212"/>
<circle cx="546.41" cy="125.67" r="2.3" fill="#ff1212"/>
<circle cx="561.02" cy="123.13" r="2.3" fill="#ff1212"/>
<circle cx="570.76" cy="120.84" r="2.3" fill="#ff1212"/>
<circle cx="580.5" cy="118.66" r="2.3" fill="#ff1212"/>
<circle cx="599.98" cy="115.64" r="2.3" fill="#ff1212"/>
<circle cx="604.85" cy="115.16" r="2.3" fill="#ff1212"/>
<circle cx="619.46" cy="113.35" r="2.3" fill="#ff1212"/>
<circle cx="629.2" cy="112.62" r="2.3" fill="#ff1212"/>
<circle cx="658.42" cy="109.36" r="2.3" fill="#ff1212"/>
<path d="M483.1 139.2L485.54 134.01L487.97 132.8L490.41 131.71L492.84 130.74L495.28 129.78L497.71 128.81L500.15 127.84L502.58 126.88L505.02 126.03L507.45 125.19L512.32 123.5L522.06 120.84L531.8 116.73L541.54 113.35L546.41 111.9L561.02 106.58L570.76 104.41L580.5 100.66L599.98 96.44L604.85 95.47L619.46 91.12L629.2 89.43L658.42 84.84" fill="none" stroke="#00ee00" stroke-width="1.4" stroke-linejoin="round"/>
<path d="M483.1 136.6L485.7 141L480.5 141Z" fill="#00ee00"/>
<path d="M485.54 131.41L488.14 135.81L482.94 135.81Z" fill="#00ee00"/>
<path d="M487.97 130.2L490.57 134.6L485.37 134.6Z" fill="#00ee00"/>
<path d="M490.41 129.11L493.01 133.51L487.81 133.51Z" fill="#00ee00"/>
<path d="M492.84 128.14L495.44 132.54L490.24 132.54Z" fill="#00ee00"/>
<path d="M495.28 127.18L497.88 131.58L492.68 131.58Z" fill="#00ee00"/>
<path d="M497.71 126.21L500.31 130.61L495.11 130.61Z" fill="#00ee00"/>
<path d="M500.15 125.24L502.75 129.64L497.55 129.64Z" fill="#00ee00"/>
<path d="M502.58 124.28L505.18 128.68L499.98 128.68Z" fill="#00ee00"/>
<path d="M505.02 123.43L507.62 127.83L502.42 127.83Z" fill="#00ee00"/>
<path d="M507.45 122.59L510.05 126.99L504.85 126.99Z" fill="#00ee00"/>
<path d="M512.32 120.9L514.92 125.3L509.72 125.3Z" fill="#00ee00"/>
<path d="M522.06 118.24L524.66 122.64L519.46 122.64Z" fill="#00ee00"/>
<path d="M531.8 114.13L534.4 118.53L529.2 118.53Z" fill="#00ee00"/>
<path d="M541.54 110.75L544.14 115.15L538.94 115.15Z" fill="#00ee00"/>
<path d="M546.41 109.3L549.01 113.7L543.81 113.7Z" fill="#00ee00"/>
<path d="M561.02 103.98L563.62 108.38L558.42 108.38Z" fill="#00ee00"/>
<path d="M570.76 101.81L573.36 106.21L568.16 106.21Z" fill="#00ee00"/>
<path d="M580.5 98.06L583.1 102.46L577.9 102.46Z" fill="#00ee00"/>
<path d="M599.98 93.84L602.58 98.24L597.38 98.24Z" fill="#00ee00"/>
<path d="M604.85 92.87L607.45 97.27L602.25 97.27Z" fill="#00ee00"/>
<path d="M619.46 88.52L622.06 92.92L616.86 92.92Z" fill="#00ee00"/>
<path d="M629.2 86.83L631.8 91.23L626.6 91.23Z" fill="#00ee00"/>
<path d="M658.42 82.24L661.02 86.64L655.82 86.64Z" fill="#00ee00"/>
<path d="M483.1 139.2L485.54 128.33L487.97 125.91L490.41 123.98L492.84 122.17L495.28 120.36L497.71 118.66L500.15 116.85L502.58 115.28L505.02 113.83L507.45 112.38L512.32 110.21L522.06 105.13L531.8 99.94L541.54 95.35L546.41 93.3L561.02 86.17L570.76 83.03L580.5 78.92L599.98 72.76L604.85 71.31L619.46 67.2L629.2 66.24L658.42 62.13" fill="none" stroke="#1c1cf8" stroke-width="1.4" stroke-linejoin="round"/>
<path d="M483.1 141.8L485.7 137.4L480.5 137.4Z" fill="#1c1cf8"/>
<path d="M485.54 130.93L488.14 126.53L482.94 126.53Z" fill="#1c1cf8"/>
<path d="M487.97 128.51L490.57 124.11L485.37 124.11Z" fill="#1c1cf8"/>
<path d="M490.41 126.58L493.01 122.18L487.81 122.18Z" fill="#1c1cf8"/>
<path d="M492.84 124.77L495.44 120.37L490.24 120.37Z" fill="#1c1cf8"/>
<path d="M495.28 122.96L497.88 118.56L492.68 118.56Z" fill="#1c1cf8"/>
<path d="M497.71 121.26L500.31 116.86L495.11 116.86Z" fill="#1c1cf8"/>
<path d="M500.15 119.45L502.75 115.05L497.55 115.05Z" fill="#1c1cf8"/>
<path d="M502.58 117.88L505.18 113.48L499.98 113.48Z" fill="#1c1cf8"/>
<path d="M505.02 116.43L507.62 112.03L502.42 112.03Z" fill="#1c1cf8"/>
<path d="M507.45 114.98L510.05 110.58L504.85 110.58Z" fill="#1c1cf8"/>
<path d="M512.32 112.81L514.92 108.41L509.72 108.41Z" fill="#1c1cf8"/>
<path d="M522.06 107.73L524.66 103.33L519.46 103.33Z" fill="#1c1cf8"/>
<path d="M531.8 102.54L534.4 98.14L529.2 98.14Z" fill="#1c1cf8"/>
<path d="M541.54 97.95L544.14 93.55L538.94 93.55Z" fill="#1c1cf8"/>
<path d="M546.41 95.9L549.01 91.5L543.81 91.5Z" fill="#1c1cf8"/>
<path d="M561.02 88.77L563.62 84.37L558.42 84.37Z" fill="#1c1cf8"/>
<path d="M570.76 85.63L573.36 81.23L568.16 81.23Z" fill="#1c1cf8"/>
<path d="M580.5 81.52L583.1 77.12L577.9 77.12Z" fill="#1c1cf8"/>
<path d="M599.98 75.36L602.58 70.96L597.38 70.96Z" fill="#1c1cf8"/>
<path d="M604.85 73.91L607.45 69.51L602.25 69.51Z" fill="#1c1cf8"/>
<path d="M619.46 69.8L622.06 65.4L616.86 65.4Z" fill="#1c1cf8"/>
<path d="M629.2 68.84L631.8 64.44L626.6 64.44Z" fill="#1c1cf8"/>
<path d="M658.42 64.73L661.02 60.33L655.82 60.33Z" fill="#1c1cf8"/>
<path d="M483.1 139.2L485.54 127.12L487.97 114.19L490.41 108.76L492.84 105.74L495.28 101.51L497.71 96.92L500.15 92.69L502.58 87.26L505.02 83.27L507.45 78.8L512.32 72.52L522.06 65.87L531.8 61.65L541.54 58.26L546.41 55.73L561.02 51.14L570.76 48L580.5 47.03L599.98 44.98L604.85 44.37L619.46 43.65L629.2 43.04L658.42 43.04" fill="none" stroke="#00ecf0" stroke-width="1.4" stroke-linejoin="round"/>
<path d="M483.1 136.9L485.1 139.2L483.1 141.5L481.1 139.2Z" fill="#fff" stroke="#00ecf0" stroke-width="1"/>
<path d="M485.54 124.82L487.54 127.12L485.54 129.42L483.54 127.12Z" fill="#fff" stroke="#00ecf0" stroke-width="1"/>
<path d="M487.97 111.89L489.97 114.19L487.97 116.49L485.97 114.19Z" fill="#fff" stroke="#00ecf0" stroke-width="1"/>
<path d="M490.41 106.46L492.41 108.76L490.41 111.06L488.41 108.76Z" fill="#fff" stroke="#00ecf0" stroke-width="1"/>
<path d="M492.84 103.44L494.84 105.74L492.84 108.04L490.84 105.74Z" fill="#fff" stroke="#00ecf0" stroke-width="1"/>
<path d="M495.28 99.21L497.28 101.51L495.28 103.81L493.28 101.51Z" fill="#fff" stroke="#00ecf0" stroke-width="1"/>
<path d="M497.71 94.62L499.71 96.92L497.71 99.22L495.71 96.92Z" fill="#fff" stroke="#00ecf0" stroke-width="1"/>
<path d="M500.15 90.39L502.15 92.69L500.15 94.99L498.15 92.69Z" fill="#fff" stroke="#00ecf0" stroke-width="1"/>
<path d="M502.58 84.96L504.58 87.26L502.58 89.56L500.58 87.26Z" fill="#fff" stroke="#00ecf0" stroke-width="1"/>
<path d="M505.02 80.97L507.02 83.27L505.02 85.57L503.02 83.27Z" fill="#fff" stroke="#00ecf0" stroke-width="1"/>
<path d="M507.45 76.5L509.45 78.8L507.45 81.1L505.45 78.8Z" fill="#fff" stroke="#00ecf0" stroke-width="1"/>
<path d="M512.32 70.22L514.32 72.52L512.32 74.82L510.32 72.52Z" fill="#fff" stroke="#00ecf0" stroke-width="1"/>
<path d="M522.06 63.57L524.06 65.87L522.06 68.17L520.06 65.87Z" fill="#fff" stroke="#00ecf0" stroke-width="1"/>
<path d="M531.8 59.35L533.8 61.65L531.8 63.95L529.8 61.65Z" fill="#fff" stroke="#00ecf0" stroke-width="1"/>
<path d="M541.54 55.96L543.54 58.26L541.54 60.56L539.54 58.26Z" fill="#fff" stroke="#00ecf0" stroke-width="1"/>
<path d="M546.41 53.43L548.41 55.73L546.41 58.03L544.41 55.73Z" fill="#fff" stroke="#00ecf0" stroke-width="1"/>
<path d="M561.02 48.84L563.02 51.14L561.02 53.44L559.02 51.14Z" fill="#fff" stroke="#00ecf0" stroke-width="1"/>
<path d="M570.76 45.7L572.76 48L570.76 50.3L568.76 48Z" fill="#fff" stroke="#00ecf0" stroke-width="1"/>
<path d="M580.5 44.73L582.5 47.03L580.5 49.33L578.5 47.03Z" fill="#fff" stroke="#00ecf0" stroke-width="1"/>
<path d="M599.98 42.68L601.98 44.98L599.98 47.28L597.98 44.98Z" fill="#fff" stroke="#00ecf0" stroke-width="1"/>
<path d="M604.85 42.07L606.85 44.37L604.85 46.67L602.85 44.37Z" fill="#fff" stroke="#00ecf0" stroke-width="1"/>
<path d="M619.46 41.35L621.46 43.65L619.46 45.95L617.46 43.65Z" fill="#fff" stroke="#00ecf0" stroke-width="1"/>
<path d="M629.2 40.74L631.2 43.04L629.2 45.34L627.2 43.04Z" fill="#fff" stroke="#00ecf0" stroke-width="1"/>
<path d="M658.42 40.74L660.42 43.04L658.42 45.34L656.42 43.04Z" fill="#fff" stroke="#00ecf0" stroke-width="1"/>
<path d="M481 12.4L502 12.4" stroke="#00ecf0" stroke-width="1.45"/>
<path d="M492.2 10.1L494.2 12.4L492.2 14.7L490.2 12.4Z" fill="#fff" stroke="#00ecf0" stroke-width="1"/>
<text x="504.2" y="16.3" font-size="10.8" fill="#1a1a1a" stroke="#1a1a1a" stroke-width="0.22" textLength="87.8" lengthAdjust="spacingAndGlyphs"><tspan>Teb@MIL-101(Fe</tspan><tspan font-size="5.4" baseline-shift="4.97">III</tspan><tspan>)</tspan></text>
<path d="M481 25.7L501 25.7" stroke="#1c1cf8" stroke-width="1.45"/>
<path d="M492.2 28.3L494.8 23.9L489.6 23.9Z" fill="#1c1cf8"/>
<text x="502.5" y="28.2" font-size="8.64" fill="#1a1a1a" stroke="#1a1a1a" stroke-width="0.22" textLength="159.6" lengthAdjust="spacingAndGlyphs"><tspan>Teb@MIL-101(Fe</tspan><tspan font-size="4.32" baseline-shift="3.97">III</tspan><tspan>)@TA + 0.3 mM H</tspan><tspan font-size="5.18" baseline-shift="-1.73">2</tspan><tspan>O</tspan><tspan font-size="5.18" baseline-shift="-1.73">2</tspan></text>
<path d="M481 38L502 38" stroke="#00ee00" stroke-width="1.45"/>
<path d="M492.2 35.4L494.8 39.8L489.6 39.8Z" fill="#00ee00"/>
<text x="503.7" y="40.5" font-size="10.37" fill="#1a1a1a" stroke="#1a1a1a" stroke-width="0.22" textLength="38.6" lengthAdjust="spacingAndGlyphs"><tspan>0.1 mM</tspan></text>
<path d="M481 48.5L502 48.5" stroke="#ff1212" stroke-width="1.45"/>
<circle cx="492.2" cy="48.5" r="2.3" fill="#ff1212"/>
<text x="503.7" y="52.6" font-size="10.37" fill="#1a1a1a" stroke="#1a1a1a" stroke-width="0.22" textLength="44.7" lengthAdjust="spacingAndGlyphs"><tspan>0.05 mM</tspan></text>
<path d="M481 59L502 59" stroke="#111111" stroke-width="1.45"/>
<rect x="490.2" y="57" width="4" height="4" fill="#111111"/>
<text x="503.7" y="63.5" font-size="10.37" fill="#1a1a1a" stroke="#1a1a1a" stroke-width="0.22" textLength="28.9" lengthAdjust="spacingAndGlyphs"><tspan>0 mM</tspan></text>
<path d="M479.67 6.32H665.73M480.67 6.32V141.6" fill="none" stroke="#6a6a6a" stroke-width="1.2"/>
<path d="M480.67 141.6H665.73M665.73 5.82V142.6" fill="none" stroke="#2a2a2a" stroke-width="1"/>
<path d="M483.1 141.6v2.6M507.45 141.6v2.6M531.8 141.6v2.6M556.15 141.6v2.6M580.5 141.6v2.6M604.85 141.6v2.6M629.2 141.6v2.6M653.55 141.6v2.6M495.28 141.6v1.6M519.62 141.6v1.6M543.98 141.6v1.6M568.33 141.6v1.6M592.68 141.6v1.6M617.03 141.6v1.6M641.38 141.6v1.6M480.67 139.2h-2.6M480.67 115.04h-2.6M480.67 90.88h-2.6M480.67 66.72h-2.6M480.67 42.56h-2.6M480.67 18.4h-2.6M480.67 127.12h-1.6M480.67 102.96h-1.6M480.67 78.8h-1.6M480.67 54.64h-1.6M480.67 30.48h-1.6" stroke="#222" stroke-width="0.9"/>
<text x="483.1" y="153" font-size="7.8" font-weight="bold" text-anchor="middle" fill="#1a1a1a" >0</text>
<text x="507.45" y="153" font-size="7.8" font-weight="bold" text-anchor="middle" fill="#1a1a1a" >10</text>
<text x="531.8" y="153" font-size="7.8" font-weight="bold" text-anchor="middle" fill="#1a1a1a" >20</text>
<text x="556.15" y="153" font-size="7.8" font-weight="bold" text-anchor="middle" fill="#1a1a1a" >30</text>
<text x="580.5" y="153" font-size="7.8" font-weight="bold" text-anchor="middle" fill="#1a1a1a" >40</text>
<text x="604.85" y="153" font-size="7.8" font-weight="bold" text-anchor="middle" fill="#1a1a1a" >50</text>
<text x="629.2" y="153" font-size="7.8" font-weight="bold" text-anchor="middle" fill="#1a1a1a" >60</text>
<text x="653.55" y="153" font-size="7.8" font-weight="bold" text-anchor="middle" fill="#1a1a1a" >70</text>
<text x="476.37" y="141.95" font-size="7.8" font-weight="bold" text-anchor="end" fill="#1a1a1a" >0</text>
<text x="476.37" y="117.79" font-size="7.8" font-weight="bold" text-anchor="end" fill="#1a1a1a" >20</text>
<text x="476.37" y="93.63" font-size="7.8" font-weight="bold" text-anchor="end" fill="#1a1a1a" >40</text>
<text x="476.37" y="69.47" font-size="7.8" font-weight="bold" text-anchor="end" fill="#1a1a1a" >60</text>
<text x="476.37" y="45.31" font-size="7.8" font-weight="bold" text-anchor="end" fill="#1a1a1a" >80</text>
<text x="476.37" y="21.15" font-size="7.8" font-weight="bold" text-anchor="end" fill="#1a1a1a" >100</text>
<text transform="translate(461.6 80.85) rotate(-90)" font-size="12.2" font-weight="bold" text-anchor="middle" fill="#111" textLength="128.5" lengthAdjust="spacingAndGlyphs">Cumulative release / %</text>
<text x="547" y="172.6" font-size="11.6" font-weight="bold" text-anchor="start" fill="#111" textLength="43.8" lengthAdjust="spacingAndGlyphs">Time / h</text>
<text x="453.5" y="10.7" font-size="13.4" font-weight="bold" text-anchor="start" fill="#111" textLength="15.6" lengthAdjust="spacingAndGlyphs">(c)</text>
<path d="M33 316.4L34.22 316.16L35.44 316.04L36.65 315.91L37.87 315.79L39.09 315.79L40.3 315.67L41.52 315.67L42.74 315.55L43.96 315.55L45.17 315.43L46.39 315.43L47.61 315.31L48.83 315.31L50.05 315.19L51.26 315.19L52.48 315.19L53.7 315.06L54.91 315.06L56.13 315.06L57.35 314.94L62.22 314.82L71.96 314.46L81.7 314.21L91.44 313.73L96.31 313.48L110.92 313.12L120.66 312.75L130.4 312.63L149.88 312.27L154.75 311.9L169.36 311.78L179.1 311.54L208.32 311.05" fill="none" stroke="#111111" stroke-width="1.05" stroke-linejoin="round"/>
<rect x="31" y="314.4" width="4" height="4" fill="#111111"/>
<rect x="32.22" y="314.16" width="4" height="4" fill="#111111"/>
<rect x="33.44" y="314.04" width="4" height="4" fill="#111111"/>
<rect x="34.65" y="313.91" width="4" height="4" fill="#111111"/>
<rect x="35.87" y="313.79" width="4" height="4" fill="#111111"/>
<rect x="37.09" y="313.79" width="4" height="4" fill="#111111"/>
<rect x="38.3" y="313.67" width="4" height="4" fill="#111111"/>
<rect x="39.52" y="313.67" width="4" height="4" fill="#111111"/>
<rect x="40.74" y="313.55" width="4" height="4" fill="#111111"/>
<rect x="41.96" y="313.55" width="4" height="4" fill="#111111"/>
<rect x="43.17" y="313.43" width="4" height="4" fill="#111111"/>
<rect x="44.39" y="313.43" width="4" height="4" fill="#111111"/>
<rect x="45.61" y="313.31" width="4" height="4" fill="#111111"/>
<rect x="46.83" y="313.31" width="4" height="4" fill="#111111"/>
<rect x="48.05" y="313.19" width="4" height="4" fill="#111111"/>
<rect x="49.26" y="313.19" width="4" height="4" fill="#111111"/>
<rect x="50.48" y="313.19" width="4" height="4" fill="#111111"/>
<rect x="51.7" y="313.06" width="4" height="4" fill="#111111"/>
<rect x="52.91" y="313.06" width="4" height="4" fill="#111111"/>
<rect x="54.13" y="313.06" width="4" height="4" fill="#111111"/>
<rect x="55.35" y="312.94" width="4" height="4" fill="#111111"/>
<rect x="60.22" y="312.82" width="4" height="4" fill="#111111"/>
<rect x="69.96" y="312.46" width="4" height="4" fill="#111111"/>
<rect x="79.7" y="312.21" width="4" height="4" fill="#111111"/>
<rect x="89.44" y="311.73" width="4" height="4" fill="#111111"/>
<rect x="94.31" y="311.48" width="4" height="4" fill="#111111"/>
<rect x="108.92" y="311.12" width="4" height="4" fill="#111111"/>
<rect x="118.66" y="310.75" width="4" height="4" fill="#111111"/>
<rect x="128.4" y="310.63" width="4" height="4" fill="#111111"/>
<rect x="147.88" y="310.27" width="4" height="4" fill="#111111"/>
<rect x="152.75" y="309.9" width="4" height="4" fill="#111111"/>
<rect x="167.36" y="309.78" width="4" height="4" fill="#111111"/>
<rect x="177.1" y="309.54" width="4" height="4" fill="#111111"/>
<rect x="206.32" y="309.05" width="4" height="4" fill="#111111"/>
<path d="M33 316.4L33.97 311.78L35.19 307.41L37.87 297.69L40.55 292.34L43.23 288.94L45.42 286.27L48.34 281.77L51.02 276.55L53.7 271.44L56.62 266.58L61.98 262.58L71.72 256.62L91.2 248.12L96.07 247.27L110.92 242.41L120.66 238.88L130.4 235.36L149.88 231.35L154.75 228.8L169.36 225.27L179.1 222.97L208.32 218.35" fill="none" stroke="#ff1212" stroke-width="1.4" stroke-linejoin="round"/>
<circle cx="33" cy="316.4" r="2.3" fill="#ff1212"/>
<circle cx="33.97" cy="311.78" r="2.3" fill="#ff1212"/>
<circle cx="35.19" cy="307.41" r="2.3" fill="#ff1212"/>
<circle cx="37.87" cy="297.69" r="2.3" fill="#ff1212"/>
<circle cx="40.55" cy="292.34" r="2.3" fill="#ff1212"/>
<circle cx="43.23" cy="288.94" r="2.3" fill="#ff1212"/>
<circle cx="45.42" cy="286.27" r="2.3" fill="#ff1212"/>
<circle cx="48.34" cy="281.77" r="2.3" fill="#ff1212"/>
<circle cx="51.02" cy="276.55" r="2.3" fill="#ff1212"/>
<circle cx="53.7" cy="271.44" r="2.3" fill="#ff1212"/>
<circle cx="56.62" cy="266.58" r="2.3" fill="#ff1212"/>
<circle cx="61.98" cy="262.58" r="2.3" fill="#ff1212"/>
<circle cx="71.72" cy="256.62" r="2.3" fill="#ff1212"/>
<circle cx="91.2" cy="248.12" r="2.3" fill="#ff1212"/>
<circle cx="96.07" cy="247.27" r="2.3" fill="#ff1212"/>
<circle cx="110.92" cy="242.41" r="2.3" fill="#ff1212"/>
<circle cx="120.66" cy="238.88" r="2.3" fill="#ff1212"/>
<circle cx="130.4" cy="235.36" r="2.3" fill="#ff1212"/>
<circle cx="149.88" cy="231.35" r="2.3" fill="#ff1212"/>
<circle cx="154.75" cy="228.8" r="2.3" fill="#ff1212"/>
<circle cx="169.36" cy="225.27" r="2.3" fill="#ff1212"/>
<circle cx="179.1" cy="222.97" r="2.3" fill="#ff1212"/>
<circle cx="208.32" cy="218.35" r="2.3" fill="#ff1212"/>
<path d="M33 316.4L35.19 300.6L36.9 292.34L38.84 286.88L41.52 278.13L43.71 273.27L45.42 267.31L48.1 261.24L50.53 255.41L53.94 248.97L57.11 242.77L61.98 239.25L71.72 236.09L91.2 230.74L96.07 229.53L110.92 226.49L120.66 224.79L130.4 222.84L149.88 222.24L154.75 221.27L169.36 217.74L179.1 216.04L208.32 214.95" fill="none" stroke="#00ee00" stroke-width="1.4" stroke-linejoin="round"/>
<path d="M33 313.8L35.6 318.2L30.4 318.2Z" fill="#00ee00"/>
<path d="M35.19 298L37.79 302.4L32.59 302.4Z" fill="#00ee00"/>
<path d="M36.9 289.74L39.5 294.14L34.3 294.14Z" fill="#00ee00"/>
<path d="M38.84 284.28L41.44 288.68L36.24 288.68Z" fill="#00ee00"/>
<path d="M41.52 275.53L44.12 279.93L38.92 279.93Z" fill="#00ee00"/>
<path d="M43.71 270.67L46.31 275.07L41.11 275.07Z" fill="#00ee00"/>
<path d="M45.42 264.71L48.02 269.11L42.82 269.11Z" fill="#00ee00"/>
<path d="M48.1 258.64L50.7 263.04L45.5 263.04Z" fill="#00ee00"/>
<path d="M50.53 252.81L53.13 257.21L47.93 257.21Z" fill="#00ee00"/>
<path d="M53.94 246.37L56.54 250.77L51.34 250.77Z" fill="#00ee00"/>
<path d="M57.11 240.17L59.71 244.57L54.51 244.57Z" fill="#00ee00"/>
<path d="M61.98 236.65L64.58 241.05L59.38 241.05Z" fill="#00ee00"/>
<path d="M71.72 233.49L74.32 237.89L69.12 237.89Z" fill="#00ee00"/>
<path d="M91.2 228.14L93.8 232.54L88.6 232.54Z" fill="#00ee00"/>
<path d="M96.07 226.93L98.67 231.33L93.47 231.33Z" fill="#00ee00"/>
<path d="M110.92 223.89L113.52 228.29L108.32 228.29Z" fill="#00ee00"/>
<path d="M120.66 222.19L123.26 226.59L118.06 226.59Z" fill="#00ee00"/>
<path d="M130.4 220.24L133 224.64L127.8 224.64Z" fill="#00ee00"/>
<path d="M149.88 219.64L152.48 224.04L147.28 224.04Z" fill="#00ee00"/>
<path d="M154.75 218.67L157.35 223.07L152.15 223.07Z" fill="#00ee00"/>
<path d="M169.36 215.14L171.96 219.54L166.76 219.54Z" fill="#00ee00"/>
<path d="M179.1 213.44L181.7 217.84L176.5 217.84Z" fill="#00ee00"/>
<path d="M208.32 212.35L210.92 216.75L205.72 216.75Z" fill="#00ee00"/>
<path d="M33 316.4L35.19 305.95L36.9 291.13L39.57 287.24L41.77 281.77L44.44 277.52L47.12 272.66L49.56 268.29L51.99 264.64L54.43 261.24L57.11 256.5L61.98 250.3L71.72 244.11L81.21 240.1L90.95 236.21L96.07 234.02L110.92 229.04L120.66 226.25L130.4 224.79L149.88 222.72L154.75 221.75L169.36 221.27L179.1 220.05L208.32 220.05" fill="none" stroke="#1c1cf8" stroke-width="1.4" stroke-linejoin="round"/>
<path d="M33 318.5L35.1 314.8L30.9 314.8Z" fill="#fff" stroke="#1c1cf8" stroke-width="1.1"/>
<path d="M35.19 308.05L37.29 304.35L33.09 304.35Z" fill="#fff" stroke="#1c1cf8" stroke-width="1.1"/>
<path d="M36.9 293.23L39 289.53L34.8 289.53Z" fill="#fff" stroke="#1c1cf8" stroke-width="1.1"/>
<path d="M39.57 289.34L41.67 285.64L37.47 285.64Z" fill="#fff" stroke="#1c1cf8" stroke-width="1.1"/>
<path d="M41.77 283.87L43.87 280.17L39.67 280.17Z" fill="#fff" stroke="#1c1cf8" stroke-width="1.1"/>
<path d="M44.44 279.62L46.54 275.92L42.34 275.92Z" fill="#fff" stroke="#1c1cf8" stroke-width="1.1"/>
<path d="M47.12 274.76L49.22 271.06L45.02 271.06Z" fill="#fff" stroke="#1c1cf8" stroke-width="1.1"/>
<path d="M49.56 270.39L51.66 266.69L47.46 266.69Z" fill="#fff" stroke="#1c1cf8" stroke-width="1.1"/>
<path d="M51.99 266.74L54.09 263.04L49.89 263.04Z" fill="#fff" stroke="#1c1cf8" stroke-width="1.1"/>
<path d="M54.43 263.34L56.53 259.64L52.33 259.64Z" fill="#fff" stroke="#1c1cf8" stroke-width="1.1"/>
<path d="M57.11 258.6L59.21 254.9L55.01 254.9Z" fill="#fff" stroke="#1c1cf8" stroke-width="1.1"/>
<path d="M61.98 252.4L64.08 248.7L59.88 248.7Z" fill="#fff" stroke="#1c1cf8" stroke-width="1.1"/>
<path d="M71.72 246.21L73.82 242.51L69.62 242.51Z" fill="#fff" stroke="#1c1cf8" stroke-width="1.1"/>
<path d="M81.21 242.2L83.31 238.5L79.11 238.5Z" fill="#fff" stroke="#1c1cf8" stroke-width="1.1"/>
<path d="M90.95 238.31L93.05 234.61L88.85 234.61Z" fill="#fff" stroke="#1c1cf8" stroke-width="1.1"/>
<path d="M96.07 236.12L98.17 232.42L93.97 232.42Z" fill="#fff" stroke="#1c1cf8" stroke-width="1.1"/>
<path d="M110.92 231.14L113.02 227.44L108.82 227.44Z" fill="#fff" stroke="#1c1cf8" stroke-width="1.1"/>
<path d="M120.66 228.35L122.76 224.65L118.56 224.65Z" fill="#fff" stroke="#1c1cf8" stroke-width="1.1"/>
<path d="M130.4 226.89L132.5 223.19L128.3 223.19Z" fill="#fff" stroke="#1c1cf8" stroke-width="1.1"/>
<path d="M149.88 224.82L151.98 221.12L147.78 221.12Z" fill="#fff" stroke="#1c1cf8" stroke-width="1.1"/>
<path d="M154.75 223.85L156.85 220.15L152.65 220.15Z" fill="#fff" stroke="#1c1cf8" stroke-width="1.1"/>
<path d="M169.36 223.37L171.46 219.67L167.26 219.67Z" fill="#fff" stroke="#1c1cf8" stroke-width="1.1"/>
<path d="M179.1 222.15L181.2 218.45L177 218.45Z" fill="#fff" stroke="#1c1cf8" stroke-width="1.1"/>
<path d="M208.32 222.15L210.42 218.45L206.22 218.45Z" fill="#fff" stroke="#1c1cf8" stroke-width="1.1"/>
<path d="M31 190.2L52 190.2" stroke="#1c1cf8" stroke-width="1.45"/>
<path d="M42.3 192.3L44.4 188.6L40.2 188.6Z" fill="#fff" stroke="#1c1cf8" stroke-width="1.1"/>
<text x="56.7" y="194.1" font-size="11.02" fill="#1a1a1a" stroke="#1a1a1a" stroke-width="0.22" textLength="87.4" lengthAdjust="spacingAndGlyphs"><tspan>Teb@MIL-101(Fe</tspan><tspan font-size="5.51" baseline-shift="5.07">III</tspan><tspan>)</tspan></text>
<path d="M31 201.9L52 201.9" stroke="#00ee00" stroke-width="1.45"/>
<path d="M42.3 199.3L44.9 203.7L39.7 203.7Z" fill="#00ee00"/>
<text x="57.2" y="205" font-size="9.5" fill="#1a1a1a" stroke="#1a1a1a" stroke-width="0.22" textLength="155.6" lengthAdjust="spacingAndGlyphs"><tspan>Teb@MIL-101(Fe</tspan><tspan font-size="4.75" baseline-shift="4.37">III</tspan><tspan>)@TA + 10 mM GSH</tspan></text>
<path d="M31 212.5L52 212.5" stroke="#ff1212" stroke-width="1.45"/>
<circle cx="42.3" cy="212.5" r="2.3" fill="#ff1212"/>
<text x="53.4" y="217.1" font-size="11.34" fill="#1a1a1a" stroke="#1a1a1a" stroke-width="0.22" textLength="29.2" lengthAdjust="spacingAndGlyphs"><tspan>5 mM</tspan></text>
<path d="M31 222.6L52 222.6" stroke="#111111" stroke-width="1.45"/>
<rect x="40.3" y="220.6" width="4" height="4" fill="#111111"/>
<text x="52.5" y="228" font-size="11.34" fill="#1a1a1a" stroke="#1a1a1a" stroke-width="0.22" textLength="29.8" lengthAdjust="spacingAndGlyphs"><tspan>0 mM</tspan></text>
<path d="M29.57 182.75H215.62M30.57 182.75V318.8" fill="none" stroke="#6a6a6a" stroke-width="1.2"/>
<path d="M30.57 318.8H215.62M215.62 182.25V319.8" fill="none" stroke="#2a2a2a" stroke-width="1"/>
<path d="M33 318.8v2.6M57.35 318.8v2.6M81.7 318.8v2.6M106.05 318.8v2.6M130.4 318.8v2.6M154.75 318.8v2.6M179.1 318.8v2.6M203.45 318.8v2.6M45.17 318.8v1.6M69.53 318.8v1.6M93.88 318.8v1.6M118.23 318.8v1.6M142.57 318.8v1.6M166.93 318.8v1.6M191.28 318.8v1.6M30.57 316.4h-2.6M30.57 292.1h-2.6M30.57 267.8h-2.6M30.57 243.5h-2.6M30.57 219.2h-2.6M30.57 194.9h-2.6M30.57 304.25h-1.6M30.57 279.95h-1.6M30.57 255.65h-1.6M30.57 231.35h-1.6M30.57 207.05h-1.6" stroke="#222" stroke-width="0.9"/>
<text x="33" y="329.9" font-size="7.8" font-weight="bold" text-anchor="middle" fill="#1a1a1a" >0</text>
<text x="57.35" y="329.9" font-size="7.8" font-weight="bold" text-anchor="middle" fill="#1a1a1a" >10</text>
<text x="81.7" y="329.9" font-size="7.8" font-weight="bold" text-anchor="middle" fill="#1a1a1a" >20</text>
<text x="106.05" y="329.9" font-size="7.8" font-weight="bold" text-anchor="middle" fill="#1a1a1a" >30</text>
<text x="130.4" y="329.9" font-size="7.8" font-weight="bold" text-anchor="middle" fill="#1a1a1a" >40</text>
<text x="154.75" y="329.9" font-size="7.8" font-weight="bold" text-anchor="middle" fill="#1a1a1a" >50</text>
<text x="179.1" y="329.9" font-size="7.8" font-weight="bold" text-anchor="middle" fill="#1a1a1a" >60</text>
<text x="203.45" y="329.9" font-size="7.8" font-weight="bold" text-anchor="middle" fill="#1a1a1a" >70</text>
<text x="26.27" y="319.15" font-size="7.8" font-weight="bold" text-anchor="end" fill="#1a1a1a" >0</text>
<text x="26.27" y="294.85" font-size="7.8" font-weight="bold" text-anchor="end" fill="#1a1a1a" >20</text>
<text x="26.27" y="270.55" font-size="7.8" font-weight="bold" text-anchor="end" fill="#1a1a1a" >40</text>
<text x="26.27" y="246.25" font-size="7.8" font-weight="bold" text-anchor="end" fill="#1a1a1a" >60</text>
<text x="26.27" y="221.95" font-size="7.8" font-weight="bold" text-anchor="end" fill="#1a1a1a" >80</text>
<text x="26.27" y="197.65" font-size="7.8" font-weight="bold" text-anchor="end" fill="#1a1a1a" >100</text>
<text transform="translate(12.8 259.85) rotate(-90)" font-size="12.2" font-weight="bold" text-anchor="middle" fill="#111" textLength="129.3" lengthAdjust="spacingAndGlyphs">Cumulative release / %</text>
<text x="95.5" y="340.9" font-size="11.6" font-weight="bold" text-anchor="start" fill="#111" textLength="43.4" lengthAdjust="spacingAndGlyphs">Time / h</text>
<text x="3.7" y="188.3" font-size="13.4" font-weight="bold" text-anchor="start" fill="#111" textLength="17.6" lengthAdjust="spacingAndGlyphs">(d)</text>
<path d="M258.2 316.4L259.42 316.16L260.63 316.04L261.85 315.91L263.07 315.79L264.29 315.79L265.5 315.67L266.72 315.67L267.94 315.55L269.16 315.55L270.38 315.43L271.59 315.43L272.81 315.31L274.03 315.31L275.25 315.19L276.46 315.19L277.68 315.19L278.9 315.06L280.12 315.06L281.33 315.06L282.55 314.94L287.42 314.82L297.16 314.46L306.9 314.21L316.64 313.73L321.51 313.48L336.12 313.12L345.86 312.75L355.6 312.63L375.08 312.27L379.95 311.9L394.56 311.78L404.3 311.54L433.52 311.05" fill="none" stroke="#111111" stroke-width="1.05" stroke-linejoin="round"/>
<rect x="256.2" y="314.4" width="4" height="4" fill="#111111"/>
<rect x="257.42" y="314.16" width="4" height="4" fill="#111111"/>
<rect x="258.63" y="314.04" width="4" height="4" fill="#111111"/>
<rect x="259.85" y="313.91" width="4" height="4" fill="#111111"/>
<rect x="261.07" y="313.79" width="4" height="4" fill="#111111"/>
<rect x="262.29" y="313.79" width="4" height="4" fill="#111111"/>
<rect x="263.5" y="313.67" width="4" height="4" fill="#111111"/>
<rect x="264.72" y="313.67" width="4" height="4" fill="#111111"/>
<rect x="265.94" y="313.55" width="4" height="4" fill="#111111"/>
<rect x="267.16" y="313.55" width="4" height="4" fill="#111111"/>
<rect x="268.38" y="313.43" width="4" height="4" fill="#111111"/>
<rect x="269.59" y="313.43" width="4" height="4" fill="#111111"/>
<rect x="270.81" y="313.31" width="4" height="4" fill="#111111"/>
<rect x="272.03" y="313.31" width="4" height="4" fill="#111111"/>
<rect x="273.25" y="313.19" width="4" height="4" fill="#111111"/>
<rect x="274.46" y="313.19" width="4" height="4" fill="#111111"/>
<rect x="275.68" y="313.19" width="4" height="4" fill="#111111"/>
<rect x="276.9" y="313.06" width="4" height="4" fill="#111111"/>
<rect x="278.12" y="313.06" width="4" height="4" fill="#111111"/>
<rect x="279.33" y="313.06" width="4" height="4" fill="#111111"/>
<rect x="280.55" y="312.94" width="4" height="4" fill="#111111"/>
<rect x="285.42" y="312.82" width="4" height="4" fill="#111111"/>
<rect x="295.16" y="312.46" width="4" height="4" fill="#111111"/>
<rect x="304.9" y="312.21" width="4" height="4" fill="#111111"/>
<rect x="314.64" y="311.73" width="4" height="4" fill="#111111"/>
<rect x="319.51" y="311.48" width="4" height="4" fill="#111111"/>
<rect x="334.12" y="311.12" width="4" height="4" fill="#111111"/>
<rect x="343.86" y="310.75" width="4" height="4" fill="#111111"/>
<rect x="353.6" y="310.63" width="4" height="4" fill="#111111"/>
<rect x="373.08" y="310.27" width="4" height="4" fill="#111111"/>
<rect x="377.95" y="309.9" width="4" height="4" fill="#111111"/>
<rect x="392.56" y="309.78" width="4" height="4" fill="#111111"/>
<rect x="402.3" y="309.54" width="4" height="4" fill="#111111"/>
<rect x="431.52" y="309.05" width="4" height="4" fill="#111111"/>
<path d="M258.2 316.4L260.63 311.54L262.1 306.92L264.29 302.67L266.48 298.9L268.67 295.38L271.11 291.37L273.05 287.36L275 284.2L277.44 280.92L279.87 277.4L282.31 272.78L284.01 268.77L288.64 261.72L297.16 251.4L316.64 240.71L322 239L336.12 235.48L346.1 231.96L355.6 228.56L375.08 223.33L379.95 221.63L394.56 220.66L404.3 220.17L433.52 217.13" fill="none" stroke="#ff1212" stroke-width="1.4" stroke-linejoin="round"/>
<circle cx="258.2" cy="316.4" r="2.3" fill="#ff1212"/>
<circle cx="260.63" cy="311.54" r="2.3" fill="#ff1212"/>
<circle cx="262.1" cy="306.92" r="2.3" fill="#ff1212"/>
<circle cx="264.29" cy="302.67" r="2.3" fill="#ff1212"/>
<circle cx="266.48" cy="298.9" r="2.3" fill="#ff1212"/>
<circle cx="268.67" cy="295.38" r="2.3" fill="#ff1212"/>
<circle cx="271.11" cy="291.37" r="2.3" fill="#ff1212"/>
<circle cx="273.05" cy="287.36" r="2.3" fill="#ff1212"/>
<circle cx="275" cy="284.2" r="2.3" fill="#ff1212"/>
<circle cx="277.44" cy="280.92" r="2.3" fill="#ff1212"/>
<circle cx="279.87" cy="277.4" r="2.3" fill="#ff1212"/>
<circle cx="282.31" cy="272.78" r="2.3" fill="#ff1212"/>
<circle cx="284.01" cy="268.77" r="2.3" fill="#ff1212"/>
<circle cx="288.64" cy="261.72" r="2.3" fill="#ff1212"/>
<circle cx="297.16" cy="251.4" r="2.3" fill="#ff1212"/>
<circle cx="316.64" cy="240.71" r="2.3" fill="#ff1212"/>
<circle cx="322" cy="239" r="2.3" fill="#ff1212"/>
<circle cx="336.12" cy="235.48" r="2.3" fill="#ff1212"/>
<circle cx="346.1" cy="231.96" r="2.3" fill="#ff1212"/>
<circle cx="355.6" cy="228.56" r="2.3" fill="#ff1212"/>
<circle cx="375.08" cy="223.33" r="2.3" fill="#ff1212"/>
<circle cx="379.95" cy="221.63" r="2.3" fill="#ff1212"/>
<circle cx="394.56" cy="220.66" r="2.3" fill="#ff1212"/>
<circle cx="404.3" cy="220.17" r="2.3" fill="#ff1212"/>
<circle cx="433.52" cy="217.13" r="2.3" fill="#ff1212"/>
<path d="M258.2 316.4L259.66 306.68L261.37 293.8L263.8 282.5L266.24 276.06L268.67 270.35L270.62 265.61L272.57 260.39L275 254.68L277.44 249.94L279.87 247.75L282.55 245.32L287.42 241.56L297.16 236.94L316.64 229.53L322 227.22L336.12 226.49L346.1 223.82L355.6 220.41L375.08 217.26L379.95 216.16L394.56 213.73L404.3 212.76L433.52 210.94" fill="none" stroke="#00ee00" stroke-width="1.4" stroke-linejoin="round"/>
<path d="M258.2 313.8L260.8 318.2L255.6 318.2Z" fill="#00ee00"/>
<path d="M259.66 304.08L262.26 308.48L257.06 308.48Z" fill="#00ee00"/>
<path d="M261.37 291.2L263.97 295.6L258.77 295.6Z" fill="#00ee00"/>
<path d="M263.8 279.9L266.4 284.3L261.2 284.3Z" fill="#00ee00"/>
<path d="M266.24 273.46L268.84 277.86L263.64 277.86Z" fill="#00ee00"/>
<path d="M268.67 267.75L271.27 272.15L266.07 272.15Z" fill="#00ee00"/>
<path d="M270.62 263.01L273.22 267.41L268.02 267.41Z" fill="#00ee00"/>
<path d="M272.57 257.79L275.17 262.19L269.97 262.19Z" fill="#00ee00"/>
<path d="M275 252.08L277.6 256.48L272.4 256.48Z" fill="#00ee00"/>
<path d="M277.44 247.34L280.04 251.74L274.84 251.74Z" fill="#00ee00"/>
<path d="M279.87 245.15L282.47 249.55L277.27 249.55Z" fill="#00ee00"/>
<path d="M282.55 242.72L285.15 247.12L279.95 247.12Z" fill="#00ee00"/>
<path d="M287.42 238.96L290.02 243.36L284.82 243.36Z" fill="#00ee00"/>
<path d="M297.16 234.34L299.76 238.74L294.56 238.74Z" fill="#00ee00"/>
<path d="M316.64 226.93L319.24 231.33L314.04 231.33Z" fill="#00ee00"/>
<path d="M322 224.62L324.6 229.02L319.4 229.02Z" fill="#00ee00"/>
<path d="M336.12 223.89L338.72 228.29L333.52 228.29Z" fill="#00ee00"/>
<path d="M346.1 221.22L348.7 225.62L343.5 225.62Z" fill="#00ee00"/>
<path d="M355.6 217.81L358.2 222.21L353 222.21Z" fill="#00ee00"/>
<path d="M375.08 214.66L377.68 219.06L372.48 219.06Z" fill="#00ee00"/>
<path d="M379.95 213.56L382.55 217.96L377.35 217.96Z" fill="#00ee00"/>
<path d="M394.56 211.13L397.16 215.53L391.96 215.53Z" fill="#00ee00"/>
<path d="M404.3 210.16L406.9 214.56L401.7 214.56Z" fill="#00ee00"/>
<path d="M433.52 208.34L436.12 212.74L430.92 212.74Z" fill="#00ee00"/>
<path d="M258.2 316.4L260.63 281.77L263.07 267.56L264.29 263.67L265.5 259.66L267.7 255.04L269.4 247.51L271.84 241.07L274.03 236.21L275.98 233.05L278.9 228.56L281.58 227.1L287.42 226.25L296.92 222.97L316.64 221.14L322 220.05L336.12 218.47L346.1 216.16L355.6 216.41L375.08 213L379.95 211.79L394.56 208.99L404.3 208.99L433.52 206.81" fill="none" stroke="#1c1cf8" stroke-width="1.4" stroke-linejoin="round"/>
<path d="M258.2 319L260.8 314.6L255.6 314.6Z" fill="#1c1cf8"/>
<path d="M260.63 284.37L263.24 279.97L258.03 279.97Z" fill="#1c1cf8"/>
<path d="M263.07 270.16L265.67 265.76L260.47 265.76Z" fill="#1c1cf8"/>
<path d="M264.29 266.27L266.89 261.87L261.69 261.87Z" fill="#1c1cf8"/>
<path d="M265.5 262.26L268.11 257.86L262.9 257.86Z" fill="#1c1cf8"/>
<path d="M267.7 257.64L270.3 253.24L265.1 253.24Z" fill="#1c1cf8"/>
<path d="M269.4 250.11L272 245.71L266.8 245.71Z" fill="#1c1cf8"/>
<path d="M271.84 243.67L274.44 239.27L269.24 239.27Z" fill="#1c1cf8"/>
<path d="M274.03 238.81L276.63 234.41L271.43 234.41Z" fill="#1c1cf8"/>
<path d="M275.98 235.65L278.58 231.25L273.38 231.25Z" fill="#1c1cf8"/>
<path d="M278.9 231.16L281.5 226.76L276.3 226.76Z" fill="#1c1cf8"/>
<path d="M281.58 229.7L284.18 225.3L278.98 225.3Z" fill="#1c1cf8"/>
<path d="M287.42 228.85L290.02 224.45L284.82 224.45Z" fill="#1c1cf8"/>
<path d="M296.92 225.57L299.52 221.17L294.32 221.17Z" fill="#1c1cf8"/>
<path d="M316.64 223.74L319.24 219.34L314.04 219.34Z" fill="#1c1cf8"/>
<path d="M322 222.65L324.6 218.25L319.4 218.25Z" fill="#1c1cf8"/>
<path d="M336.12 221.07L338.72 216.67L333.52 216.67Z" fill="#1c1cf8"/>
<path d="M346.1 218.76L348.7 214.36L343.5 214.36Z" fill="#1c1cf8"/>
<path d="M355.6 219.01L358.2 214.61L353 214.61Z" fill="#1c1cf8"/>
<path d="M375.08 215.6L377.68 211.2L372.48 211.2Z" fill="#1c1cf8"/>
<path d="M379.95 214.39L382.55 209.99L377.35 209.99Z" fill="#1c1cf8"/>
<path d="M394.56 211.59L397.16 207.19L391.96 207.19Z" fill="#1c1cf8"/>
<path d="M404.3 211.59L406.9 207.19L401.7 207.19Z" fill="#1c1cf8"/>
<path d="M433.52 209.41L436.12 205.01L430.92 205.01Z" fill="#1c1cf8"/>
<path d="M258.2 316.4L260.63 303.4L263.07 290.64L265.02 285.78L266.97 282.5L269.16 278.98L271.11 275.21L273.05 272.05L275 268.77L277.19 265.37L279.14 262.33L280.85 259.54L283.04 255.53L287.42 250.55L297.16 243.99L306.66 239.37L316.64 235.48L322 233.42L336.12 229.41L346.1 226.37L355.6 224.3L375.08 222.84L379.95 221.99L394.56 221.02L404.3 220.17L433.52 219.56" fill="none" stroke="#00ecf0" stroke-width="1.4" stroke-linejoin="round"/>
<path d="M258.2 314.1L260.2 316.4L258.2 318.7L256.2 316.4Z" fill="#fff" stroke="#00ecf0" stroke-width="1"/>
<path d="M260.63 301.1L262.63 303.4L260.63 305.7L258.63 303.4Z" fill="#fff" stroke="#00ecf0" stroke-width="1"/>
<path d="M263.07 288.34L265.07 290.64L263.07 292.94L261.07 290.64Z" fill="#fff" stroke="#00ecf0" stroke-width="1"/>
<path d="M265.02 283.48L267.02 285.78L265.02 288.08L263.02 285.78Z" fill="#fff" stroke="#00ecf0" stroke-width="1"/>
<path d="M266.97 280.2L268.97 282.5L266.97 284.8L264.97 282.5Z" fill="#fff" stroke="#00ecf0" stroke-width="1"/>
<path d="M269.16 276.68L271.16 278.98L269.16 281.28L267.16 278.98Z" fill="#fff" stroke="#00ecf0" stroke-width="1"/>
<path d="M271.11 272.91L273.11 275.21L271.11 277.51L269.11 275.21Z" fill="#fff" stroke="#00ecf0" stroke-width="1"/>
<path d="M273.05 269.75L275.05 272.05L273.05 274.35L271.05 272.05Z" fill="#fff" stroke="#00ecf0" stroke-width="1"/>
<path d="M275 266.47L277 268.77L275 271.07L273 268.77Z" fill="#fff" stroke="#00ecf0" stroke-width="1"/>
<path d="M277.19 263.07L279.19 265.37L277.19 267.67L275.19 265.37Z" fill="#fff" stroke="#00ecf0" stroke-width="1"/>
<path d="M279.14 260.03L281.14 262.33L279.14 264.63L277.14 262.33Z" fill="#fff" stroke="#00ecf0" stroke-width="1"/>
<path d="M280.85 257.24L282.85 259.54L280.85 261.84L278.85 259.54Z" fill="#fff" stroke="#00ecf0" stroke-width="1"/>
<path d="M283.04 253.23L285.04 255.53L283.04 257.83L281.04 255.53Z" fill="#fff" stroke="#00ecf0" stroke-width="1"/>
<path d="M287.42 248.25L289.42 250.55L287.42 252.85L285.42 250.55Z" fill="#fff" stroke="#00ecf0" stroke-width="1"/>
<path d="M297.16 241.69L299.16 243.99L297.16 246.29L295.16 243.99Z" fill="#fff" stroke="#00ecf0" stroke-width="1"/>
<path d="M306.66 237.07L308.66 239.37L306.66 241.67L304.66 239.37Z" fill="#fff" stroke="#00ecf0" stroke-width="1"/>
<path d="M316.64 233.18L318.64 235.48L316.64 237.78L314.64 235.48Z" fill="#fff" stroke="#00ecf0" stroke-width="1"/>
<path d="M322 231.12L324 233.42L322 235.72L320 233.42Z" fill="#fff" stroke="#00ecf0" stroke-width="1"/>
<path d="M336.12 227.11L338.12 229.41L336.12 231.71L334.12 229.41Z" fill="#fff" stroke="#00ecf0" stroke-width="1"/>
<path d="M346.1 224.07L348.1 226.37L346.1 228.67L344.1 226.37Z" fill="#fff" stroke="#00ecf0" stroke-width="1"/>
<path d="M355.6 222L357.6 224.3L355.6 226.6L353.6 224.3Z" fill="#fff" stroke="#00ecf0" stroke-width="1"/>
<path d="M375.08 220.54L377.08 222.84L375.08 225.14L373.08 222.84Z" fill="#fff" stroke="#00ecf0" stroke-width="1"/>
<path d="M379.95 219.69L381.95 221.99L379.95 224.29L377.95 221.99Z" fill="#fff" stroke="#00ecf0" stroke-width="1"/>
<path d="M394.56 218.72L396.56 221.02L394.56 223.32L392.56 221.02Z" fill="#fff" stroke="#00ecf0" stroke-width="1"/>
<path d="M404.3 217.87L406.3 220.17L404.3 222.47L402.3 220.17Z" fill="#fff" stroke="#00ecf0" stroke-width="1"/>
<path d="M433.52 217.26L435.52 219.56L433.52 221.86L431.52 219.56Z" fill="#fff" stroke="#00ecf0" stroke-width="1"/>
<path d="M283 264.6L299.7 264.6" stroke="#00ecf0" stroke-width="1.45"/>
<path d="M291.5 262.3L293.5 264.6L291.5 266.9L289.5 264.6Z" fill="#fff" stroke="#00ecf0" stroke-width="1"/>
<text x="301" y="269.2" font-size="11.34" fill="#1a1a1a" stroke="#1a1a1a" stroke-width="0.22" textLength="86.7" lengthAdjust="spacingAndGlyphs"><tspan>Teb@MIL-101(Fe</tspan><tspan font-size="5.67" baseline-shift="5.22">III</tspan><tspan>)</tspan></text>
<path d="M283 276L299.7 276" stroke="#1c1cf8" stroke-width="1.45"/>
<path d="M291.5 278.6L294.1 274.2L288.9 274.2Z" fill="#1c1cf8"/>
<text x="301.5" y="279.1" font-size="8.21" fill="#1a1a1a" stroke="#1a1a1a" stroke-width="0.22" textLength="129.7" lengthAdjust="spacingAndGlyphs"><tspan>Teb@MIL-101(Fe</tspan><tspan font-size="4.11" baseline-shift="3.78">III</tspan><tspan>)@TA +2 mM PO</tspan><tspan font-size="4.93" baseline-shift="-1.64">4</tspan><tspan font-size="4.11" baseline-shift="3.78">-3</tspan></text>
<path d="M283 287.5L300.5 287.5" stroke="#00ee00" stroke-width="1.45"/>
<path d="M291.5 284.9L294.1 289.3L288.9 289.3Z" fill="#00ee00"/>
<text x="302" y="290.5" font-size="10.37" fill="#1a1a1a" stroke="#1a1a1a" stroke-width="0.22" textLength="29.3" lengthAdjust="spacingAndGlyphs"><tspan>1 mM</tspan></text>
<path d="M283 297.6L300.5 297.6" stroke="#ff1212" stroke-width="1.45"/>
<circle cx="291.5" cy="297.6" r="2.3" fill="#ff1212"/>
<text x="301.5" y="301.3" font-size="10.37" fill="#1a1a1a" stroke="#1a1a1a" stroke-width="0.22" textLength="39.1" lengthAdjust="spacingAndGlyphs"><tspan>0.5 mM</tspan></text>
<path d="M283 307.3L300.5 307.3" stroke="#111111" stroke-width="1.45"/>
<rect x="289.5" y="305.3" width="4" height="4" fill="#111111"/>
<text x="301.5" y="311.4" font-size="10.37" fill="#1a1a1a" stroke="#1a1a1a" stroke-width="0.22" textLength="30.7" lengthAdjust="spacingAndGlyphs"><tspan>0 mM</tspan></text>
<path d="M254.76 182.75H440.82M255.76 182.75V318.8" fill="none" stroke="#6a6a6a" stroke-width="1.2"/>
<path d="M255.76 318.8H440.82M440.82 182.25V319.8" fill="none" stroke="#2a2a2a" stroke-width="1"/>
<path d="M258.2 318.8v2.6M282.55 318.8v2.6M306.9 318.8v2.6M331.25 318.8v2.6M355.6 318.8v2.6M379.95 318.8v2.6M404.3 318.8v2.6M428.65 318.8v2.6M270.38 318.8v1.6M294.72 318.8v1.6M319.07 318.8v1.6M343.43 318.8v1.6M367.77 318.8v1.6M392.12 318.8v1.6M416.48 318.8v1.6M255.76 316.4h-2.6M255.76 292.1h-2.6M255.76 267.8h-2.6M255.76 243.5h-2.6M255.76 219.2h-2.6M255.76 194.9h-2.6M255.76 304.25h-1.6M255.76 279.95h-1.6M255.76 255.65h-1.6M255.76 231.35h-1.6M255.76 207.05h-1.6" stroke="#222" stroke-width="0.9"/>
<text x="258.2" y="329.9" font-size="7.8" font-weight="bold" text-anchor="middle" fill="#1a1a1a" >0</text>
<text x="282.55" y="329.9" font-size="7.8" font-weight="bold" text-anchor="middle" fill="#1a1a1a" >10</text>
<text x="306.9" y="329.9" font-size="7.8" font-weight="bold" text-anchor="middle" fill="#1a1a1a" >20</text>
<text x="331.25" y="329.9" font-size="7.8" font-weight="bold" text-anchor="middle" fill="#1a1a1a" >30</text>
<text x="355.6" y="329.9" font-size="7.8" font-weight="bold" text-anchor="middle" fill="#1a1a1a" >40</text>
<text x="379.95" y="329.9" font-size="7.8" font-weight="bold" text-anchor="middle" fill="#1a1a1a" >50</text>
<text x="404.3" y="329.9" font-size="7.8" font-weight="bold" text-anchor="middle" fill="#1a1a1a" >60</text>
<text x="428.65" y="329.9" font-size="7.8" font-weight="bold" text-anchor="middle" fill="#1a1a1a" >70</text>
<text x="251.46" y="319.15" font-size="7.8" font-weight="bold" text-anchor="end" fill="#1a1a1a" >0</text>
<text x="251.46" y="294.85" font-size="7.8" font-weight="bold" text-anchor="end" fill="#1a1a1a" >20</text>
<text x="251.46" y="270.55" font-size="7.8" font-weight="bold" text-anchor="end" fill="#1a1a1a" >40</text>
<text x="251.46" y="246.25" font-size="7.8" font-weight="bold" text-anchor="end" fill="#1a1a1a" >60</text>
<text x="251.46" y="221.95" font-size="7.8" font-weight="bold" text-anchor="end" fill="#1a1a1a" >80</text>
<text x="251.46" y="197.65" font-size="7.8" font-weight="bold" text-anchor="end" fill="#1a1a1a" >100</text>
<text transform="translate(236.8 258.05) rotate(-90)" font-size="12.2" font-weight="bold" text-anchor="middle" fill="#111" textLength="127.1" lengthAdjust="spacingAndGlyphs">Cumulative release / %</text>
<text x="319.9" y="341.1" font-size="11.6" font-weight="bold" text-anchor="start" fill="#111" textLength="44" lengthAdjust="spacingAndGlyphs">Time / h</text>
<text x="228" y="188.6" font-size="13.4" font-weight="bold" text-anchor="start" fill="#111" textLength="16.8" lengthAdjust="spacingAndGlyphs">(e)</text>
<path d="M483.3 316.5L484.52 316.26L485.74 316.14L486.95 316.01L488.17 315.89L489.39 315.89L490.61 315.77L491.82 315.77L493.04 315.65L494.26 315.65L495.48 315.53L496.69 315.53L497.91 315.41L499.13 315.41L500.35 315.29L501.56 315.29L502.78 315.29L504 315.16L505.22 315.16L506.43 315.16L507.65 315.04L512.52 314.92L522.26 314.56L532 314.31L541.74 313.83L546.61 313.58L561.22 313.22L570.96 312.86L580.7 312.73L600.18 312.37L605.05 312L619.66 311.88L629.4 311.64L658.62 311.15" fill="none" stroke="#111111" stroke-width="1.05" stroke-linejoin="round"/>
<rect x="481.3" y="314.5" width="4" height="4" fill="#111111"/>
<rect x="482.52" y="314.26" width="4" height="4" fill="#111111"/>
<rect x="483.74" y="314.14" width="4" height="4" fill="#111111"/>
<rect x="484.95" y="314.01" width="4" height="4" fill="#111111"/>
<rect x="486.17" y="313.89" width="4" height="4" fill="#111111"/>
<rect x="487.39" y="313.89" width="4" height="4" fill="#111111"/>
<rect x="488.61" y="313.77" width="4" height="4" fill="#111111"/>
<rect x="489.82" y="313.77" width="4" height="4" fill="#111111"/>
<rect x="491.04" y="313.65" width="4" height="4" fill="#111111"/>
<rect x="492.26" y="313.65" width="4" height="4" fill="#111111"/>
<rect x="493.48" y="313.53" width="4" height="4" fill="#111111"/>
<rect x="494.69" y="313.53" width="4" height="4" fill="#111111"/>
<rect x="495.91" y="313.41" width="4" height="4" fill="#111111"/>
<rect x="497.13" y="313.41" width="4" height="4" fill="#111111"/>
<rect x="498.35" y="313.29" width="4" height="4" fill="#111111"/>
<rect x="499.56" y="313.29" width="4" height="4" fill="#111111"/>
<rect x="500.78" y="313.29" width="4" height="4" fill="#111111"/>
<rect x="502" y="313.16" width="4" height="4" fill="#111111"/>
<rect x="503.22" y="313.16" width="4" height="4" fill="#111111"/>
<rect x="504.43" y="313.16" width="4" height="4" fill="#111111"/>
<rect x="505.65" y="313.04" width="4" height="4" fill="#111111"/>
<rect x="510.52" y="312.92" width="4" height="4" fill="#111111"/>
<rect x="520.26" y="312.56" width="4" height="4" fill="#111111"/>
<rect x="530" y="312.31" width="4" height="4" fill="#111111"/>
<rect x="539.74" y="311.83" width="4" height="4" fill="#111111"/>
<rect x="544.61" y="311.58" width="4" height="4" fill="#111111"/>
<rect x="559.22" y="311.22" width="4" height="4" fill="#111111"/>
<rect x="568.96" y="310.86" width="4" height="4" fill="#111111"/>
<rect x="578.7" y="310.73" width="4" height="4" fill="#111111"/>
<rect x="598.18" y="310.37" width="4" height="4" fill="#111111"/>
<rect x="603.05" y="310" width="4" height="4" fill="#111111"/>
<rect x="617.66" y="309.88" width="4" height="4" fill="#111111"/>
<rect x="627.4" y="309.64" width="4" height="4" fill="#111111"/>
<rect x="656.62" y="309.15" width="4" height="4" fill="#111111"/>
<path d="M483.3 316.5L484.76 314.99L486.34 313.35L487.93 311.68L489.51 309.99L491.09 308.29L492.67 306.55L494.26 304.8L495.84 303.03L497.42 301.24L499.01 299.43L500.59 297.59L502.17 295.74L503.75 293.86L505.34 291.97L506.92 290.05L508.38 289.16L512.52 283.45L522.26 272.15L532 263.65L541.74 255.51L547.1 251.01L560.98 242.99L569.26 238.62L580.7 234.37L600.18 231.21L605.05 229.51L619.66 227.08L629.4 226.1L658.62 222.22" fill="none" stroke="#ff1212" stroke-width="1.4" stroke-linejoin="round"/>
<circle cx="483.3" cy="316.5" r="2.3" fill="#ff1212"/>
<circle cx="484.76" cy="314.99" r="2.3" fill="#ff1212"/>
<circle cx="486.34" cy="313.35" r="2.3" fill="#ff1212"/>
<circle cx="487.93" cy="311.68" r="2.3" fill="#ff1212"/>
<circle cx="489.51" cy="309.99" r="2.3" fill="#ff1212"/>
<circle cx="491.09" cy="308.29" r="2.3" fill="#ff1212"/>
<circle cx="492.67" cy="306.55" r="2.3" fill="#ff1212"/>
<circle cx="494.26" cy="304.8" r="2.3" fill="#ff1212"/>
<circle cx="495.84" cy="303.03" r="2.3" fill="#ff1212"/>
<circle cx="497.42" cy="301.24" r="2.3" fill="#ff1212"/>
<circle cx="499.01" cy="299.43" r="2.3" fill="#ff1212"/>
<circle cx="500.59" cy="297.59" r="2.3" fill="#ff1212"/>
<circle cx="502.17" cy="295.74" r="2.3" fill="#ff1212"/>
<circle cx="503.75" cy="293.86" r="2.3" fill="#ff1212"/>
<circle cx="505.34" cy="291.97" r="2.3" fill="#ff1212"/>
<circle cx="506.92" cy="290.05" r="2.3" fill="#ff1212"/>
<circle cx="508.38" cy="289.16" r="2.3" fill="#ff1212"/>
<circle cx="512.52" cy="283.45" r="2.3" fill="#ff1212"/>
<circle cx="522.26" cy="272.15" r="2.3" fill="#ff1212"/>
<circle cx="532" cy="263.65" r="2.3" fill="#ff1212"/>
<circle cx="541.74" cy="255.51" r="2.3" fill="#ff1212"/>
<circle cx="547.1" cy="251.01" r="2.3" fill="#ff1212"/>
<circle cx="560.98" cy="242.99" r="2.3" fill="#ff1212"/>
<circle cx="569.26" cy="238.62" r="2.3" fill="#ff1212"/>
<circle cx="580.7" cy="234.37" r="2.3" fill="#ff1212"/>
<circle cx="600.18" cy="231.21" r="2.3" fill="#ff1212"/>
<circle cx="605.05" cy="229.51" r="2.3" fill="#ff1212"/>
<circle cx="619.66" cy="227.08" r="2.3" fill="#ff1212"/>
<circle cx="629.4" cy="226.1" r="2.3" fill="#ff1212"/>
<circle cx="658.62" cy="222.22" r="2.3" fill="#ff1212"/>
<path d="M483.3 316.5L485 294.27L487.44 285.4L489.39 278.83L491.58 272.15L493.77 266.08L495.48 261.82L496.94 256.48L500.1 251.25L503.51 246.03L506.19 242.75L510.09 239.23L522.02 232.66L541.74 223.43L547.1 222.94L561.22 219.42L570.96 218.57L580.7 216.38L600.18 215.53L605.05 213.71L619.66 211.52L629.4 208.97L658.62 207.51" fill="none" stroke="#00ee00" stroke-width="1.4" stroke-linejoin="round"/>
<path d="M483.3 313.9L485.9 318.3L480.7 318.3Z" fill="#00ee00"/>
<path d="M485 291.67L487.6 296.07L482.4 296.07Z" fill="#00ee00"/>
<path d="M487.44 282.8L490.04 287.2L484.84 287.2Z" fill="#00ee00"/>
<path d="M489.39 276.23L491.99 280.63L486.79 280.63Z" fill="#00ee00"/>
<path d="M491.58 269.55L494.18 273.95L488.98 273.95Z" fill="#00ee00"/>
<path d="M493.77 263.48L496.37 267.88L491.17 267.88Z" fill="#00ee00"/>
<path d="M495.48 259.22L498.08 263.62L492.88 263.62Z" fill="#00ee00"/>
<path d="M496.94 253.88L499.54 258.28L494.34 258.28Z" fill="#00ee00"/>
<path d="M500.1 248.65L502.7 253.05L497.5 253.05Z" fill="#00ee00"/>
<path d="M503.51 243.43L506.11 247.83L500.91 247.83Z" fill="#00ee00"/>
<path d="M506.19 240.15L508.79 244.55L503.59 244.55Z" fill="#00ee00"/>
<path d="M510.09 236.63L512.69 241.03L507.49 241.03Z" fill="#00ee00"/>
<path d="M522.02 230.06L524.62 234.47L519.42 234.47Z" fill="#00ee00"/>
<path d="M541.74 220.83L544.34 225.23L539.14 225.23Z" fill="#00ee00"/>
<path d="M547.1 220.34L549.7 224.75L544.5 224.75Z" fill="#00ee00"/>
<path d="M561.22 216.82L563.82 221.22L558.62 221.22Z" fill="#00ee00"/>
<path d="M570.96 215.97L573.56 220.37L568.36 220.37Z" fill="#00ee00"/>
<path d="M580.7 213.78L583.3 218.18L578.1 218.18Z" fill="#00ee00"/>
<path d="M600.18 212.93L602.78 217.33L597.58 217.33Z" fill="#00ee00"/>
<path d="M605.05 211.11L607.65 215.51L602.45 215.51Z" fill="#00ee00"/>
<path d="M619.66 208.92L622.26 213.32L617.06 213.32Z" fill="#00ee00"/>
<path d="M629.4 206.37L632 210.77L626.8 210.77Z" fill="#00ee00"/>
<path d="M658.62 204.91L661.22 209.31L656.02 209.31Z" fill="#00ee00"/>
<path d="M483.3 316.5L485 304.71L486.71 291.59L489.63 286.25L490.85 281.87L492.8 279.32L494.26 275.8L496.45 271.55L498.64 267.29L500.83 263.53L503.02 260L504.73 256.84L510.09 250.16L522.02 243.6L532.49 238.98L545.64 234.37L561.22 229.02L570.96 225.98L580.7 224.28L600.18 222.22L605.05 221.61L619.66 220.76L629.4 220.39L658.62 219.91" fill="none" stroke="#1c1cf8" stroke-width="1.4" stroke-linejoin="round"/>
<path d="M483.3 318.6L485.4 314.9L481.2 314.9Z" fill="#fff" stroke="#1c1cf8" stroke-width="1.1"/>
<path d="M485 306.81L487.1 303.11L482.9 303.11Z" fill="#fff" stroke="#1c1cf8" stroke-width="1.1"/>
<path d="M486.71 293.69L488.81 289.99L484.61 289.99Z" fill="#fff" stroke="#1c1cf8" stroke-width="1.1"/>
<path d="M489.63 288.35L491.73 284.65L487.53 284.65Z" fill="#fff" stroke="#1c1cf8" stroke-width="1.1"/>
<path d="M490.85 283.97L492.95 280.27L488.75 280.27Z" fill="#fff" stroke="#1c1cf8" stroke-width="1.1"/>
<path d="M492.8 281.42L494.9 277.72L490.7 277.72Z" fill="#fff" stroke="#1c1cf8" stroke-width="1.1"/>
<path d="M494.26 277.9L496.36 274.2L492.16 274.2Z" fill="#fff" stroke="#1c1cf8" stroke-width="1.1"/>
<path d="M496.45 273.65L498.55 269.94L494.35 269.94Z" fill="#fff" stroke="#1c1cf8" stroke-width="1.1"/>
<path d="M498.64 269.39L500.74 265.69L496.54 265.69Z" fill="#fff" stroke="#1c1cf8" stroke-width="1.1"/>
<path d="M500.83 265.63L502.93 261.93L498.73 261.93Z" fill="#fff" stroke="#1c1cf8" stroke-width="1.1"/>
<path d="M503.02 262.1L505.12 258.4L500.92 258.4Z" fill="#fff" stroke="#1c1cf8" stroke-width="1.1"/>
<path d="M504.73 258.94L506.83 255.24L502.63 255.24Z" fill="#fff" stroke="#1c1cf8" stroke-width="1.1"/>
<path d="M510.09 252.26L512.19 248.56L507.99 248.56Z" fill="#fff" stroke="#1c1cf8" stroke-width="1.1"/>
<path d="M522.02 245.7L524.12 242L519.92 242Z" fill="#fff" stroke="#1c1cf8" stroke-width="1.1"/>
<path d="M532.49 241.08L534.59 237.38L530.39 237.38Z" fill="#fff" stroke="#1c1cf8" stroke-width="1.1"/>
<path d="M545.64 236.47L547.74 232.77L543.54 232.77Z" fill="#fff" stroke="#1c1cf8" stroke-width="1.1"/>
<path d="M561.22 231.12L563.32 227.42L559.12 227.42Z" fill="#fff" stroke="#1c1cf8" stroke-width="1.1"/>
<path d="M570.96 228.08L573.06 224.38L568.86 224.38Z" fill="#fff" stroke="#1c1cf8" stroke-width="1.1"/>
<path d="M580.7 226.38L582.8 222.68L578.6 222.68Z" fill="#fff" stroke="#1c1cf8" stroke-width="1.1"/>
<path d="M600.18 224.32L602.28 220.62L598.08 220.62Z" fill="#fff" stroke="#1c1cf8" stroke-width="1.1"/>
<path d="M605.05 223.71L607.15 220.01L602.95 220.01Z" fill="#fff" stroke="#1c1cf8" stroke-width="1.1"/>
<path d="M619.66 222.86L621.76 219.16L617.56 219.16Z" fill="#fff" stroke="#1c1cf8" stroke-width="1.1"/>
<path d="M629.4 222.49L631.5 218.79L627.3 218.79Z" fill="#fff" stroke="#1c1cf8" stroke-width="1.1"/>
<path d="M658.62 222.01L660.72 218.31L656.52 218.31Z" fill="#fff" stroke="#1c1cf8" stroke-width="1.1"/>
<path d="M481 189.8L501 189.8" stroke="#1c1cf8" stroke-width="1.45"/>
<path d="M491.4 191.9L493.5 188.2L489.3 188.2Z" fill="#fff" stroke="#1c1cf8" stroke-width="1.1"/>
<text x="502.8" y="194.1" font-size="11.02" fill="#1a1a1a" stroke="#1a1a1a" stroke-width="0.22" textLength="87.4" lengthAdjust="spacingAndGlyphs"><tspan>Teb@MIL-101(Fe</tspan><tspan font-size="5.51" baseline-shift="5.07">III</tspan><tspan>)</tspan></text>
<path d="M481 202L501 202" stroke="#00ee00" stroke-width="1.45"/>
<path d="M491.4 199.4L494 203.8L488.8 203.8Z" fill="#00ee00"/>
<text x="504.6" y="205.7" font-size="9.94" fill="#1a1a1a" stroke="#1a1a1a" stroke-width="0.22" textLength="150" lengthAdjust="spacingAndGlyphs"><tspan>Teb@MIL-101(Fe</tspan><tspan font-size="4.97" baseline-shift="4.57">III</tspan><tspan>)@TA+2 mM EDTA</tspan></text>
<path d="M481 212.5L501 212.5" stroke="#ff1212" stroke-width="1.45"/>
<circle cx="491.4" cy="212.5" r="2.3" fill="#ff1212"/>
<text x="502.5" y="216.5" font-size="10.8" fill="#1a1a1a" stroke="#1a1a1a" stroke-width="0.22" textLength="38.5" lengthAdjust="spacingAndGlyphs"><tspan>0.5 mM</tspan></text>
<path d="M481 222.6L501 222.6" stroke="#111111" stroke-width="1.45"/>
<rect x="489.4" y="220.6" width="4" height="4" fill="#111111"/>
<text x="502.5" y="227.5" font-size="10.8" fill="#1a1a1a" stroke="#1a1a1a" stroke-width="0.22" textLength="30.1" lengthAdjust="spacingAndGlyphs"><tspan>0 mM</tspan></text>
<path d="M479.87 182.85H665.92M480.87 182.85V318.9" fill="none" stroke="#6a6a6a" stroke-width="1.2"/>
<path d="M480.87 318.9H665.92M665.92 182.35V319.9" fill="none" stroke="#2a2a2a" stroke-width="1"/>
<path d="M483.3 318.9v2.6M507.65 318.9v2.6M532 318.9v2.6M556.35 318.9v2.6M580.7 318.9v2.6M605.05 318.9v2.6M629.4 318.9v2.6M653.75 318.9v2.6M495.48 318.9v1.6M519.83 318.9v1.6M544.17 318.9v1.6M568.52 318.9v1.6M592.88 318.9v1.6M617.23 318.9v1.6M641.58 318.9v1.6M480.87 316.5h-2.6M480.87 292.2h-2.6M480.87 267.9h-2.6M480.87 243.6h-2.6M480.87 219.3h-2.6M480.87 195h-2.6M480.87 304.35h-1.6M480.87 280.05h-1.6M480.87 255.75h-1.6M480.87 231.45h-1.6M480.87 207.15h-1.6" stroke="#222" stroke-width="0.9"/>
<text x="483.3" y="330" font-size="7.8" font-weight="bold" text-anchor="middle" fill="#1a1a1a" >0</text>
<text x="507.65" y="330" font-size="7.8" font-weight="bold" text-anchor="middle" fill="#1a1a1a" >10</text>
<text x="532" y="330" font-size="7.8" font-weight="bold" text-anchor="middle" fill="#1a1a1a" >20</text>
<text x="556.35" y="330" font-size="7.8" font-weight="bold" text-anchor="middle" fill="#1a1a1a" >30</text>
<text x="580.7" y="330" font-size="7.8" font-weight="bold" text-anchor="middle" fill="#1a1a1a" >40</text>
<text x="605.05" y="330" font-size="7.8" font-weight="bold" text-anchor="middle" fill="#1a1a1a" >50</text>
<text x="629.4" y="330" font-size="7.8" font-weight="bold" text-anchor="middle" fill="#1a1a1a" >60</text>
<text x="653.75" y="330" font-size="7.8" font-weight="bold" text-anchor="middle" fill="#1a1a1a" >70</text>
<text x="476.56" y="319.25" font-size="7.8" font-weight="bold" text-anchor="end" fill="#1a1a1a" >0</text>
<text x="476.56" y="294.95" font-size="7.8" font-weight="bold" text-anchor="end" fill="#1a1a1a" >20</text>
<text x="476.56" y="270.65" font-size="7.8" font-weight="bold" text-anchor="end" fill="#1a1a1a" >40</text>
<text x="476.56" y="246.35" font-size="7.8" font-weight="bold" text-anchor="end" fill="#1a1a1a" >60</text>
<text x="476.56" y="222.05" font-size="7.8" font-weight="bold" text-anchor="end" fill="#1a1a1a" >80</text>
<text x="476.56" y="197.75" font-size="7.8" font-weight="bold" text-anchor="end" fill="#1a1a1a" >100</text>
<text transform="translate(463.3 258.05) rotate(-90)" font-size="12.2" font-weight="bold" text-anchor="middle" fill="#111" textLength="128.5" lengthAdjust="spacingAndGlyphs">Cumulative release / %</text>
<text x="544.1" y="340.8" font-size="11.6" font-weight="bold" text-anchor="start" fill="#111" textLength="43" lengthAdjust="spacingAndGlyphs">Time / h</text>
<text x="455.7" y="188.1" font-size="13.4" font-weight="bold" text-anchor="start" fill="#111" textLength="14.9" lengthAdjust="spacingAndGlyphs">(f)</text>
</svg>
</body></html>
